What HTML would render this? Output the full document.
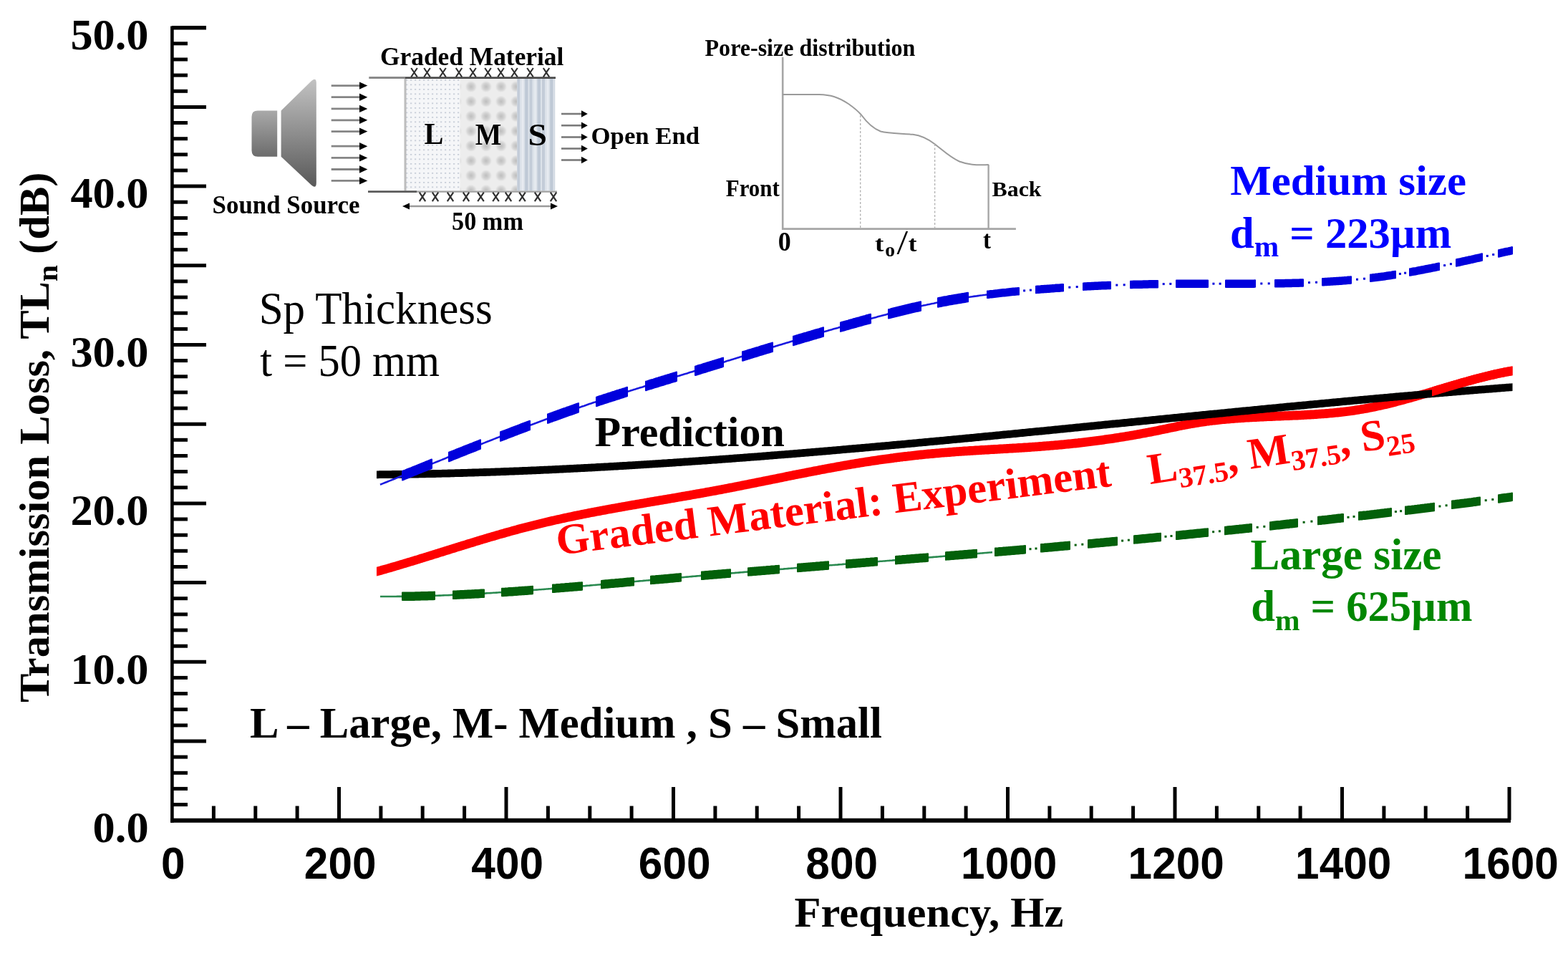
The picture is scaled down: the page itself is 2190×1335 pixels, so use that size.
<!DOCTYPE html>
<html><head><meta charset="utf-8"><title>Transmission Loss vs Frequency</title>
<style>
html,body{margin:0;padding:0;background:#fff;}
body{width:2190px;height:1335px;overflow:hidden;}
svg{display:block;}
</style></head>
<body>
<svg width="2190" height="1335" viewBox="0 0 2190 1335">
<rect width="2190" height="1335" fill="#fff"/>
<g><line x1="240.4" y1="36.5" x2="240.4" y2="1148.7" stroke="#000" stroke-width="4.6"/><line x1="238.2" y1="1145.7" x2="2110" y2="1145.7" stroke="#000" stroke-width="6"/><line x1="240" y1="1123.6" x2="262" y2="1123.6" stroke="#000" stroke-width="5.0"/><line x1="240" y1="1101.4" x2="262" y2="1101.4" stroke="#000" stroke-width="5.0"/><line x1="240" y1="1079.3" x2="262" y2="1079.3" stroke="#000" stroke-width="5.0"/><line x1="240" y1="1057.1" x2="262" y2="1057.1" stroke="#000" stroke-width="5.0"/><line x1="240" y1="1035.0" x2="288" y2="1035.0" stroke="#000" stroke-width="5.0"/><line x1="240" y1="1012.9" x2="262" y2="1012.9" stroke="#000" stroke-width="5.0"/><line x1="240" y1="990.7" x2="262" y2="990.7" stroke="#000" stroke-width="5.0"/><line x1="240" y1="968.6" x2="262" y2="968.6" stroke="#000" stroke-width="5.0"/><line x1="240" y1="946.4" x2="262" y2="946.4" stroke="#000" stroke-width="5.0"/><line x1="240" y1="924.3" x2="288" y2="924.3" stroke="#000" stroke-width="5.0"/><line x1="240" y1="902.2" x2="262" y2="902.2" stroke="#000" stroke-width="5.0"/><line x1="240" y1="880.0" x2="262" y2="880.0" stroke="#000" stroke-width="5.0"/><line x1="240" y1="857.9" x2="262" y2="857.9" stroke="#000" stroke-width="5.0"/><line x1="240" y1="835.7" x2="262" y2="835.7" stroke="#000" stroke-width="5.0"/><line x1="240" y1="813.6" x2="288" y2="813.6" stroke="#000" stroke-width="5.0"/><line x1="240" y1="791.5" x2="262" y2="791.5" stroke="#000" stroke-width="5.0"/><line x1="240" y1="769.3" x2="262" y2="769.3" stroke="#000" stroke-width="5.0"/><line x1="240" y1="747.2" x2="262" y2="747.2" stroke="#000" stroke-width="5.0"/><line x1="240" y1="725.0" x2="262" y2="725.0" stroke="#000" stroke-width="5.0"/><line x1="240" y1="702.9" x2="288" y2="702.9" stroke="#000" stroke-width="5.0"/><line x1="240" y1="680.8" x2="262" y2="680.8" stroke="#000" stroke-width="5.0"/><line x1="240" y1="658.6" x2="262" y2="658.6" stroke="#000" stroke-width="5.0"/><line x1="240" y1="636.5" x2="262" y2="636.5" stroke="#000" stroke-width="5.0"/><line x1="240" y1="614.3" x2="262" y2="614.3" stroke="#000" stroke-width="5.0"/><line x1="240" y1="592.2" x2="288" y2="592.2" stroke="#000" stroke-width="5.0"/><line x1="240" y1="570.1" x2="262" y2="570.1" stroke="#000" stroke-width="5.0"/><line x1="240" y1="547.9" x2="262" y2="547.9" stroke="#000" stroke-width="5.0"/><line x1="240" y1="525.8" x2="262" y2="525.8" stroke="#000" stroke-width="5.0"/><line x1="240" y1="503.6" x2="262" y2="503.6" stroke="#000" stroke-width="5.0"/><line x1="240" y1="481.5" x2="288" y2="481.5" stroke="#000" stroke-width="5.0"/><line x1="240" y1="459.4" x2="262" y2="459.4" stroke="#000" stroke-width="5.0"/><line x1="240" y1="437.2" x2="262" y2="437.2" stroke="#000" stroke-width="5.0"/><line x1="240" y1="415.1" x2="262" y2="415.1" stroke="#000" stroke-width="5.0"/><line x1="240" y1="392.9" x2="262" y2="392.9" stroke="#000" stroke-width="5.0"/><line x1="240" y1="370.8" x2="288" y2="370.8" stroke="#000" stroke-width="5.0"/><line x1="240" y1="348.7" x2="262" y2="348.7" stroke="#000" stroke-width="5.0"/><line x1="240" y1="326.5" x2="262" y2="326.5" stroke="#000" stroke-width="5.0"/><line x1="240" y1="304.4" x2="262" y2="304.4" stroke="#000" stroke-width="5.0"/><line x1="240" y1="282.2" x2="262" y2="282.2" stroke="#000" stroke-width="5.0"/><line x1="240" y1="260.1" x2="288" y2="260.1" stroke="#000" stroke-width="5.0"/><line x1="240" y1="238.0" x2="262" y2="238.0" stroke="#000" stroke-width="5.0"/><line x1="240" y1="215.8" x2="262" y2="215.8" stroke="#000" stroke-width="5.0"/><line x1="240" y1="193.7" x2="262" y2="193.7" stroke="#000" stroke-width="5.0"/><line x1="240" y1="171.5" x2="262" y2="171.5" stroke="#000" stroke-width="5.0"/><line x1="240" y1="149.4" x2="288" y2="149.4" stroke="#000" stroke-width="5.0"/><line x1="240" y1="127.3" x2="262" y2="127.3" stroke="#000" stroke-width="5.0"/><line x1="240" y1="105.1" x2="262" y2="105.1" stroke="#000" stroke-width="5.0"/><line x1="240" y1="83.0" x2="262" y2="83.0" stroke="#000" stroke-width="5.0"/><line x1="240" y1="60.8" x2="262" y2="60.8" stroke="#000" stroke-width="5.0"/><line x1="240" y1="38.7" x2="288" y2="38.7" stroke="#000" stroke-width="5.4"/><line x1="298.4" y1="1125.5" x2="298.4" y2="1145" stroke="#000" stroke-width="5.0"/><line x1="356.8" y1="1125.5" x2="356.8" y2="1145" stroke="#000" stroke-width="5.0"/><line x1="415.1" y1="1125.5" x2="415.1" y2="1145" stroke="#000" stroke-width="5.0"/><line x1="473.5" y1="1099" x2="473.5" y2="1145" stroke="#000" stroke-width="5.0"/><line x1="531.9" y1="1125.5" x2="531.9" y2="1145" stroke="#000" stroke-width="5.0"/><line x1="590.2" y1="1125.5" x2="590.2" y2="1145" stroke="#000" stroke-width="5.0"/><line x1="648.6" y1="1125.5" x2="648.6" y2="1145" stroke="#000" stroke-width="5.0"/><line x1="707.0" y1="1099" x2="707.0" y2="1145" stroke="#000" stroke-width="5.0"/><line x1="765.4" y1="1125.5" x2="765.4" y2="1145" stroke="#000" stroke-width="5.0"/><line x1="823.8" y1="1125.5" x2="823.8" y2="1145" stroke="#000" stroke-width="5.0"/><line x1="882.1" y1="1125.5" x2="882.1" y2="1145" stroke="#000" stroke-width="5.0"/><line x1="940.5" y1="1099" x2="940.5" y2="1145" stroke="#000" stroke-width="5.0"/><line x1="998.9" y1="1125.5" x2="998.9" y2="1145" stroke="#000" stroke-width="5.0"/><line x1="1057.2" y1="1125.5" x2="1057.2" y2="1145" stroke="#000" stroke-width="5.0"/><line x1="1115.6" y1="1125.5" x2="1115.6" y2="1145" stroke="#000" stroke-width="5.0"/><line x1="1174.0" y1="1099" x2="1174.0" y2="1145" stroke="#000" stroke-width="5.0"/><line x1="1232.4" y1="1125.5" x2="1232.4" y2="1145" stroke="#000" stroke-width="5.0"/><line x1="1290.8" y1="1125.5" x2="1290.8" y2="1145" stroke="#000" stroke-width="5.0"/><line x1="1349.1" y1="1125.5" x2="1349.1" y2="1145" stroke="#000" stroke-width="5.0"/><line x1="1407.5" y1="1099" x2="1407.5" y2="1145" stroke="#000" stroke-width="5.0"/><line x1="1465.9" y1="1125.5" x2="1465.9" y2="1145" stroke="#000" stroke-width="5.0"/><line x1="1524.2" y1="1125.5" x2="1524.2" y2="1145" stroke="#000" stroke-width="5.0"/><line x1="1582.6" y1="1125.5" x2="1582.6" y2="1145" stroke="#000" stroke-width="5.0"/><line x1="1641.0" y1="1099" x2="1641.0" y2="1145" stroke="#000" stroke-width="5.0"/><line x1="1699.4" y1="1125.5" x2="1699.4" y2="1145" stroke="#000" stroke-width="5.0"/><line x1="1757.8" y1="1125.5" x2="1757.8" y2="1145" stroke="#000" stroke-width="5.0"/><line x1="1816.1" y1="1125.5" x2="1816.1" y2="1145" stroke="#000" stroke-width="5.0"/><line x1="1874.5" y1="1099" x2="1874.5" y2="1145" stroke="#000" stroke-width="5.0"/><line x1="1932.9" y1="1125.5" x2="1932.9" y2="1145" stroke="#000" stroke-width="5.0"/><line x1="1991.2" y1="1125.5" x2="1991.2" y2="1145" stroke="#000" stroke-width="5.0"/><line x1="2049.6" y1="1125.5" x2="2049.6" y2="1145" stroke="#000" stroke-width="5.0"/><line x1="2108.0" y1="1099" x2="2108.0" y2="1145" stroke="#000" stroke-width="5.0"/></g>
<g><defs>
<linearGradient id="gBox" x1="0" y1="0" x2="0" y2="1"><stop offset="0" stop-color="#a9a9a9"/><stop offset="1" stop-color="#6c6c6c"/></linearGradient>
<linearGradient id="gCone" x1="0" y1="0" x2="0" y2="1"><stop offset="0" stop-color="#c2c2c2"/><stop offset="0.5" stop-color="#8e8e8e"/><stop offset="1" stop-color="#585858"/></linearGradient>
<pattern id="pL" x="566" y="110" width="6" height="6.5" patternUnits="userSpaceOnUse"><rect width="6" height="6.5" fill="#f5f6f8"/><rect x="1" y="1" width="2.2" height="1.6" fill="#c3cad5"/></pattern>
<radialGradient id="gBlob"><stop offset="0" stop-color="#bdbdbd"/><stop offset="0.6" stop-color="#d4d4d4"/><stop offset="1" stop-color="#ececec"/></radialGradient>
<pattern id="pM" x="647.4" y="110.5" width="21" height="20.7" patternUnits="userSpaceOnUse"><rect width="21" height="20.7" fill="#ededed"/><circle cx="10.5" cy="10.5" r="8" fill="url(#gBlob)"/></pattern>
<pattern id="pS" x="722" y="0" width="17.5" height="10" patternUnits="userSpaceOnUse"><rect width="17.5" height="10" fill="#dde3ea"/><rect x="0" width="4" height="10" fill="#c3ccd8"/><rect x="7" width="2" height="10" fill="#e9edf2"/><rect x="11" width="4.5" height="10" fill="#bfc9d6"/></pattern>
<marker id="ah" viewBox="0 0 10 10" refX="10" refY="5" markerWidth="10" markerHeight="10" markerUnits="userSpaceOnUse" orient="auto"><path d="M0,0 L10,5 L0,10 z" fill="#000"/></marker>
</defs>
<path d="M360,154.6 H387.2 V218.7 H360 Q351.5,218.7 351.5,210 V163 Q351.5,154.6 360,154.6 z" fill="url(#gBox)"/>
<path d="M392.6,154.6 L435,113 Q441.8,107.5 441.8,116 V255 Q441.8,264.5 435,258.5 L392.6,218.7 z" fill="url(#gCone)"/>
<line x1="462.7" y1="119.6" x2="503" y2="119.6" stroke="#858585" stroke-width="2.8"/>
<path d="M502,114.4 L513.3,119.6 L502,124.8 z" fill="#000"/>
<line x1="462.7" y1="135.7" x2="503" y2="135.7" stroke="#858585" stroke-width="2.8"/>
<path d="M502,130.5 L513.3,135.7 L502,140.9 z" fill="#000"/>
<line x1="462.7" y1="151.9" x2="503" y2="151.9" stroke="#858585" stroke-width="2.8"/>
<path d="M502,146.7 L513.3,151.9 L502,157.1 z" fill="#000"/>
<line x1="462.7" y1="167.8" x2="503" y2="167.8" stroke="#858585" stroke-width="2.8"/>
<path d="M502,162.6 L513.3,167.8 L502,173.0 z" fill="#000"/>
<line x1="462.7" y1="183.6" x2="503" y2="183.6" stroke="#858585" stroke-width="2.8"/>
<path d="M502,178.4 L513.3,183.6 L502,188.8 z" fill="#000"/>
<line x1="462.7" y1="204.2" x2="503" y2="204.2" stroke="#858585" stroke-width="2.8"/>
<path d="M502,199.0 L513.3,204.2 L502,209.4 z" fill="#000"/>
<line x1="462.7" y1="220.4" x2="503" y2="220.4" stroke="#858585" stroke-width="2.8"/>
<path d="M502,215.2 L513.3,220.4 L502,225.6 z" fill="#000"/>
<line x1="462.7" y1="236.5" x2="503" y2="236.5" stroke="#858585" stroke-width="2.8"/>
<path d="M502,231.3 L513.3,236.5 L502,241.7 z" fill="#000"/>
<line x1="462.7" y1="252.4" x2="503" y2="252.4" stroke="#858585" stroke-width="2.8"/>
<path d="M502,247.2 L513.3,252.4 L502,257.6 z" fill="#000"/>
<rect x="566" y="110" width="76.5" height="156.5" fill="url(#pL)"/>
<rect x="642.5" y="110" width="79.7" height="156.5" fill="url(#pM)"/>
<rect x="722.2" y="110" width="53" height="156.5" fill="url(#pS)"/>
<line x1="566" y1="110" x2="566" y2="266.5" stroke="#bdbdbd" stroke-width="3"/>
<line x1="515.3" y1="108.6" x2="566" y2="108.6" stroke="#8a8a8a" stroke-width="3"/>
<line x1="566" y1="108.6" x2="776" y2="108.6" stroke="#4a4a4a" stroke-width="2.6"/>
<line x1="514" y1="267.6" x2="582" y2="267.6" stroke="#5a5a5a" stroke-width="2.8"/>
<line x1="582" y1="267.6" x2="778" y2="267.6" stroke="#a0a0a0" stroke-width="2.2"/>
<path d="M574.2,95.0 L582.8,107.5 M582.8,95.0 L574.2,107.5" stroke="#303030" stroke-width="2.2" fill="none"/>
<path d="M592.2,95.0 L600.8,107.5 M600.8,95.0 L592.2,107.5" stroke="#303030" stroke-width="2.2" fill="none"/>
<path d="M614.2,95.0 L622.8,107.5 M622.8,95.0 L614.2,107.5" stroke="#303030" stroke-width="2.2" fill="none"/>
<path d="M636.8,95.0 L645.2,107.5 M645.2,95.0 L636.8,107.5" stroke="#303030" stroke-width="2.2" fill="none"/>
<path d="M656.2,95.0 L664.8,107.5 M664.8,95.0 L656.2,107.5" stroke="#303030" stroke-width="2.2" fill="none"/>
<path d="M677.2,95.0 L685.8,107.5 M685.8,95.0 L677.2,107.5" stroke="#303030" stroke-width="2.2" fill="none"/>
<path d="M695.2,95.0 L703.8,107.5 M703.8,95.0 L695.2,107.5" stroke="#303030" stroke-width="2.2" fill="none"/>
<path d="M714.2,95.0 L722.8,107.5 M722.8,95.0 L714.2,107.5" stroke="#303030" stroke-width="2.2" fill="none"/>
<path d="M736.2,95.0 L744.8,107.5 M744.8,95.0 L736.2,107.5" stroke="#303030" stroke-width="2.2" fill="none"/>
<path d="M758.8,95.0 L767.2,107.5 M767.2,95.0 L758.8,107.5" stroke="#303030" stroke-width="2.2" fill="none"/>
<path d="M585.8,268.6 L594.2,281.1 M594.2,268.6 L585.8,281.1" stroke="#303030" stroke-width="2.2" fill="none"/>
<path d="M603.8,268.6 L612.2,281.1 M612.2,268.6 L603.8,281.1" stroke="#303030" stroke-width="2.2" fill="none"/>
<path d="M624.8,268.6 L633.2,281.1 M633.2,268.6 L624.8,281.1" stroke="#303030" stroke-width="2.2" fill="none"/>
<path d="M646.8,268.6 L655.2,281.1 M655.2,268.6 L646.8,281.1" stroke="#303030" stroke-width="2.2" fill="none"/>
<path d="M667.2,268.6 L675.8,281.1 M675.8,268.6 L667.2,281.1" stroke="#303030" stroke-width="2.2" fill="none"/>
<path d="M688.2,268.6 L696.8,281.1 M696.8,268.6 L688.2,281.1" stroke="#303030" stroke-width="2.2" fill="none"/>
<path d="M705.8,268.6 L714.2,281.1 M714.2,268.6 L705.8,281.1" stroke="#303030" stroke-width="2.2" fill="none"/>
<path d="M725.2,268.6 L733.8,281.1 M733.8,268.6 L725.2,281.1" stroke="#303030" stroke-width="2.2" fill="none"/>
<path d="M746.8,268.6 L755.2,281.1 M755.2,268.6 L746.8,281.1" stroke="#303030" stroke-width="2.2" fill="none"/>
<path d="M768.8,268.6 L777.2,281.1 M777.2,268.6 L768.8,281.1" stroke="#303030" stroke-width="2.2" fill="none"/>
<line x1="568" y1="288" x2="772" y2="288" stroke="#9a9a9a" stroke-width="2.6"/>
<path d="M572,283.5 L562,288 L572,292.5 z" fill="#000"/>
<path d="M769,283.5 L779,288 L769,292.5 z" fill="#000"/>
<line x1="784" y1="159" x2="813" y2="159" stroke="#7a7a7a" stroke-width="2.6"/>
<path d="M812,154.2 L820.8,159 L812,163.8 z" fill="#000"/>
<line x1="784" y1="175.2" x2="813" y2="175.2" stroke="#7a7a7a" stroke-width="2.6"/>
<path d="M812,170.4 L820.8,175.2 L812,180.0 z" fill="#000"/>
<line x1="784" y1="191.5" x2="813" y2="191.5" stroke="#7a7a7a" stroke-width="2.6"/>
<path d="M812,186.7 L820.8,191.5 L812,196.3 z" fill="#000"/>
<line x1="784" y1="207.5" x2="813" y2="207.5" stroke="#7a7a7a" stroke-width="2.6"/>
<path d="M812,202.7 L820.8,207.5 L812,212.3 z" fill="#000"/>
<line x1="784" y1="223.5" x2="813" y2="223.5" stroke="#7a7a7a" stroke-width="2.6"/>
<path d="M812,218.7 L820.8,223.5 L812,228.3 z" fill="#000"/>
<path d="M1093.2,79.7 V319.6 H1418.9" fill="none" stroke="#a6a6a6" stroke-width="2.6"/>
<path d="M1380.6,230.1 V319.3" fill="none" stroke="#a6a6a6" stroke-width="2.4"/>
<path d="M1093.2,132 L1144,132 C1160,132.5 1170,135 1185,145 C1195,152 1200,157 1203,160.5 C1210,170 1218,179 1230,183.5 C1240,186 1250,186 1275,187.8 C1285,189 1295,193 1306,201.5 C1316,209 1326,219 1340,225.5 C1352,230 1362,230.7 1380.9,230.1" fill="none" stroke="#9a9a9a" stroke-width="2"/>
<path d="M1201.7,161 V319 M1305.6,201 V319" fill="none" stroke="#b0b0b0" stroke-width="1.3" stroke-dasharray="3 2.5"/></g>
<g><path d="M526.0,791.8 L528.0,791.3 L530.0,790.7 L532.0,790.1 L534.0,789.6 L536.0,789.0 L538.0,788.4 L540.0,787.9 L542.0,787.3 L544.0,786.7 L546.0,786.1 L548.0,785.6 L550.0,785.0 L552.0,784.4 L554.0,783.8 L556.0,783.2 L558.0,782.6 L560.0,782.0 L562.0,781.4 L564.0,780.8 L566.0,780.2 L568.0,779.6 L570.0,779.0 L572.0,778.4 L574.0,777.8 L576.0,777.2 L578.0,776.6 L580.0,776.0 L582.0,775.4 L584.0,774.7 L586.0,774.1 L588.0,773.5 L590.0,772.9 L592.0,772.3 L594.0,771.7 L596.0,771.0 L598.0,770.4 L600.0,769.8 L602.0,769.2 L604.0,768.6 L606.0,767.9 L608.0,767.3 L610.0,766.7 L612.0,766.1 L614.0,765.4 L616.0,764.8 L618.0,764.2 L620.0,763.6 L622.0,762.9 L624.0,762.3 L626.0,761.7 L628.0,761.1 L630.0,760.5 L632.0,759.8 L634.0,759.2 L636.0,758.6 L638.0,758.0 L640.0,757.3 L642.0,756.7 L644.0,756.1 L646.0,755.5 L648.0,754.9 L650.0,754.2 L652.0,753.6 L654.0,753.0 L656.0,752.4 L658.0,751.8 L660.0,751.2 L662.0,750.6 L664.0,749.9 L666.0,749.3 L668.0,748.7 L670.0,748.1 L672.0,747.5 L674.0,746.9 L676.0,746.3 L678.0,745.7 L680.0,745.1 L682.0,744.5 L684.0,743.9 L686.1,743.3 L688.1,742.8 L690.1,742.2 L692.1,741.6 L694.1,741.0 L696.1,740.4 L698.1,739.8 L700.1,739.3 L702.1,738.7 L704.1,738.1 L706.1,737.6 L708.1,737.0 L710.1,736.4 L712.1,735.9 L714.1,735.3 L716.1,734.8 L718.1,734.2 L720.1,733.7 L722.1,733.1 L724.1,732.6 L726.1,732.0 L728.1,731.5 L730.1,731.0 L732.1,730.5 L734.1,729.9 L736.1,729.4 L738.1,728.9 L740.1,728.4 L742.1,727.9 L744.1,727.4 L746.1,726.9 L748.1,726.4 L750.1,725.9 L752.1,725.4 L754.1,724.9 L756.1,724.4 L758.1,723.9 L760.1,723.4 L762.1,723.0 L764.1,722.5 L766.1,722.0 L768.1,721.6 L770.1,721.1 L772.1,720.7 L774.1,720.2 L776.1,719.8 L778.1,719.3 L780.1,718.9 L782.1,718.4 L784.1,718.0 L786.1,717.5 L788.1,717.1 L790.1,716.7 L792.1,716.2 L794.1,715.8 L796.1,715.4 L798.1,715.0 L800.1,714.6 L802.1,714.1 L804.1,713.7 L806.1,713.3 L808.1,712.9 L810.1,712.5 L812.1,712.1 L814.1,711.7 L816.1,711.3 L818.1,710.9 L820.1,710.5 L822.1,710.1 L824.1,709.7 L826.1,709.3 L828.1,709.0 L830.1,708.6 L832.1,708.2 L834.1,707.8 L836.1,707.4 L838.1,707.1 L840.1,706.7 L842.1,706.3 L844.1,705.9 L846.1,705.6 L848.1,705.2 L850.1,704.8 L852.1,704.5 L854.1,704.1 L856.1,703.7 L858.1,703.4 L860.1,703.0 L862.1,702.7 L864.1,702.3 L866.1,701.9 L868.1,701.6 L870.1,701.2 L872.1,700.9 L874.1,700.5 L876.1,700.2 L878.1,699.8 L880.1,699.5 L882.1,699.1 L884.1,698.8 L886.1,698.4 L888.1,698.1 L890.1,697.7 L892.1,697.4 L894.1,697.0 L896.1,696.7 L898.1,696.4 L900.1,696.0 L902.1,695.7 L904.1,695.3 L906.1,695.0 L908.1,694.6 L910.1,694.3 L912.1,694.0 L914.1,693.6 L916.1,693.3 L918.1,692.9 L920.1,692.6 L922.1,692.3 L924.1,691.9 L926.1,691.6 L928.1,691.2 L930.1,690.9 L932.1,690.6 L934.1,690.2 L936.1,689.9 L938.1,689.5 L940.1,689.2 L942.1,688.9 L944.1,688.5 L946.1,688.2 L948.1,687.8 L950.1,687.5 L952.1,687.1 L954.1,686.8 L956.1,686.4 L958.1,686.1 L960.1,685.7 L962.1,685.4 L964.1,685.1 L966.1,684.7 L968.1,684.3 L970.1,684.0 L972.1,683.6 L974.1,683.3 L976.1,682.9 L978.1,682.6 L980.1,682.2 L982.1,681.9 L984.1,681.5 L986.1,681.1 L988.1,680.8 L990.1,680.4 L992.1,680.0 L994.1,679.7 L996.1,679.3 L998.1,678.9 L1000.1,678.6 L1002.2,678.2 L1004.2,677.8 L1006.2,677.4 L1008.2,677.1 L1010.2,676.7 L1012.2,676.3 L1014.2,675.9 L1016.2,675.5 L1018.2,675.1 L1020.2,674.8 L1022.2,674.4 L1024.2,674.0 L1026.2,673.6 L1028.2,673.2 L1030.2,672.8 L1032.2,672.4 L1034.2,672.0 L1036.2,671.6 L1038.2,671.2 L1040.2,670.8 L1042.2,670.4 L1044.2,670.0 L1046.2,669.6 L1048.2,669.2 L1050.2,668.8 L1052.2,668.4 L1054.2,668.0 L1056.2,667.6 L1058.2,667.2 L1060.2,666.8 L1062.2,666.4 L1064.2,666.0 L1066.2,665.6 L1068.2,665.2 L1070.2,664.8 L1072.2,664.4 L1074.2,664.0 L1076.2,663.6 L1078.2,663.2 L1080.2,662.8 L1082.2,662.4 L1084.2,662.0 L1086.2,661.6 L1088.2,661.2 L1090.2,660.8 L1092.2,660.4 L1094.2,660.0 L1096.2,659.5 L1098.2,659.1 L1100.2,658.7 L1102.2,658.3 L1104.2,657.9 L1106.2,657.5 L1108.2,657.1 L1110.2,656.7 L1112.2,656.3 L1114.2,655.9 L1116.2,655.5 L1118.2,655.2 L1120.2,654.8 L1122.2,654.4 L1124.2,654.0 L1126.2,653.6 L1128.2,653.2 L1130.2,652.8 L1132.2,652.4 L1134.2,652.0 L1136.2,651.6 L1138.2,651.2 L1140.2,650.9 L1142.2,650.5 L1144.2,650.1 L1146.2,649.7 L1148.2,649.3 L1150.2,649.0 L1152.2,648.6 L1154.2,648.2 L1156.2,647.8 L1158.2,647.5 L1160.2,647.1 L1162.2,646.7 L1164.2,646.4 L1166.2,646.0 L1168.2,645.6 L1170.2,645.3 L1172.2,644.9 L1174.2,644.6 L1176.2,644.2 L1178.2,643.8 L1180.2,643.5 L1182.2,643.2 L1184.2,642.8 L1186.2,642.5 L1188.2,642.1 L1190.2,641.8 L1192.2,641.4 L1194.2,641.1 L1196.2,640.8 L1198.2,640.5 L1200.2,640.1 L1202.2,639.8 L1204.2,639.5 L1206.2,639.2 L1208.2,638.8 L1210.2,638.5 L1212.2,638.2 L1214.2,637.9 L1216.2,637.6 L1218.2,637.3 L1220.2,637.0 L1222.2,636.7 L1224.2,636.4 L1226.2,636.1 L1228.2,635.8 L1230.2,635.5 L1232.2,635.3 L1234.2,635.0 L1236.2,634.7 L1238.2,634.4 L1240.2,634.2 L1242.2,633.9 L1244.2,633.6 L1246.2,633.4 L1248.2,633.1 L1250.2,632.8 L1252.2,632.6 L1254.2,632.3 L1256.2,632.1 L1258.2,631.8 L1260.2,631.6 L1262.2,631.3 L1264.2,631.1 L1266.2,630.9 L1268.2,630.6 L1270.2,630.4 L1272.2,630.2 L1274.2,629.9 L1276.2,629.7 L1278.2,629.5 L1280.2,629.3 L1282.2,629.1 L1284.2,628.8 L1286.2,628.6 L1288.2,628.4 L1290.2,628.2 L1292.2,628.0 L1294.2,627.8 L1296.2,627.6 L1298.2,627.4 L1300.2,627.3 L1302.2,627.1 L1304.2,626.9 L1306.2,626.7 L1308.2,626.5 L1310.2,626.4 L1312.2,626.2 L1314.2,626.0 L1316.2,625.8 L1318.2,625.7 L1320.3,625.5 L1322.3,625.4 L1324.3,625.2 L1326.3,625.1 L1328.3,624.9 L1330.3,624.8 L1332.3,624.6 L1334.3,624.5 L1336.3,624.3 L1338.3,624.2 L1340.3,624.0 L1342.3,623.9 L1344.3,623.8 L1346.3,623.6 L1348.3,623.5 L1350.3,623.4 L1352.3,623.2 L1354.3,623.1 L1356.3,623.0 L1358.3,622.9 L1360.3,622.7 L1362.3,622.6 L1364.3,622.5 L1366.3,622.4 L1368.3,622.3 L1370.3,622.1 L1372.3,622.0 L1374.3,621.9 L1376.3,621.8 L1378.3,621.7 L1380.3,621.6 L1382.3,621.4 L1384.3,621.3 L1386.3,621.2 L1388.3,621.1 L1390.3,621.0 L1392.3,620.9 L1394.3,620.8 L1396.3,620.6 L1398.3,620.5 L1400.3,620.4 L1402.3,620.3 L1404.3,620.2 L1406.3,620.1 L1408.3,620.0 L1410.3,619.8 L1412.3,619.7 L1414.3,619.6 L1416.3,619.5 L1418.3,619.4 L1420.3,619.2 L1422.3,619.1 L1424.3,619.0 L1426.3,618.9 L1428.3,618.7 L1430.3,618.6 L1432.3,618.5 L1434.3,618.4 L1436.3,618.2 L1438.3,618.1 L1440.3,618.0 L1442.3,617.8 L1444.3,617.7 L1446.3,617.5 L1448.3,617.4 L1450.3,617.3 L1452.3,617.1 L1454.3,617.0 L1456.3,616.8 L1458.3,616.6 L1460.3,616.5 L1462.3,616.3 L1464.3,616.2 L1466.3,616.0 L1468.3,615.8 L1470.3,615.7 L1472.3,615.5 L1474.3,615.3 L1476.3,615.2 L1478.3,615.0 L1480.3,614.8 L1482.3,614.6 L1484.3,614.4 L1486.3,614.2 L1488.3,614.0 L1490.3,613.8 L1492.3,613.6 L1494.3,613.4 L1496.3,613.2 L1498.3,613.0 L1500.3,612.8 L1502.3,612.6 L1504.3,612.4 L1506.3,612.1 L1508.3,611.9 L1510.3,611.7 L1512.3,611.5 L1514.3,611.2 L1516.3,611.0 L1518.3,610.7 L1520.3,610.5 L1522.3,610.2 L1524.3,610.0 L1526.3,609.7 L1528.3,609.5 L1530.3,609.2 L1532.3,609.0 L1534.3,608.7 L1536.3,608.4 L1538.3,608.2 L1540.3,607.9 L1542.3,607.6 L1544.3,607.3 L1546.3,607.0 L1548.3,606.8 L1550.3,606.5 L1552.3,606.2 L1554.3,605.9 L1556.3,605.6 L1558.3,605.3 L1560.3,605.0 L1562.3,604.7 L1564.3,604.3 L1566.3,604.0 L1568.3,603.7 L1570.3,603.4 L1572.3,603.0 L1574.3,602.7 L1576.3,602.4 L1578.3,602.0 L1580.3,601.7 L1582.3,601.4 L1584.3,601.0 L1586.3,600.7 L1588.3,600.3 L1590.3,599.9 L1592.3,599.6 L1594.3,599.2 L1596.3,598.8 L1598.3,598.5 L1600.3,598.1 L1602.3,597.7 L1604.3,597.3 L1606.3,596.9 L1608.3,596.6 L1610.3,596.2 L1612.3,595.8 L1614.3,595.4 L1616.3,595.0 L1618.3,594.6 L1620.3,594.1 L1622.3,593.7 L1624.3,593.3 L1626.3,592.9 L1628.3,592.5 L1630.3,592.1 L1632.3,591.6 L1634.3,591.2 L1636.3,590.8 L1638.4,590.4 L1640.4,590.0 L1642.4,589.6 L1644.4,589.1 L1646.4,588.7 L1648.4,588.3 L1650.4,587.9 L1652.4,587.5 L1654.4,587.1 L1656.4,586.8 L1658.4,586.4 L1660.4,586.0 L1662.4,585.6 L1664.4,585.3 L1666.4,584.9 L1668.4,584.6 L1670.4,584.2 L1672.4,583.9 L1674.4,583.6 L1676.4,583.3 L1678.4,583.0 L1680.4,582.7 L1682.4,582.4 L1684.4,582.1 L1686.4,581.8 L1688.4,581.6 L1690.4,581.3 L1692.4,581.1 L1694.4,580.8 L1696.4,580.6 L1698.4,580.4 L1700.4,580.1 L1702.4,579.9 L1704.4,579.7 L1706.4,579.5 L1708.4,579.3 L1710.4,579.1 L1712.4,578.9 L1714.4,578.8 L1716.4,578.6 L1718.4,578.4 L1720.4,578.2 L1722.4,578.1 L1724.4,577.9 L1726.4,577.8 L1728.4,577.6 L1730.4,577.5 L1732.4,577.4 L1734.4,577.2 L1736.4,577.1 L1738.4,577.0 L1740.4,576.8 L1742.4,576.7 L1744.4,576.6 L1746.4,576.5 L1748.4,576.4 L1750.4,576.3 L1752.4,576.2 L1754.4,576.1 L1756.4,576.0 L1758.4,575.9 L1760.4,575.8 L1762.4,575.7 L1764.4,575.6 L1766.4,575.5 L1768.4,575.4 L1770.4,575.3 L1772.4,575.2 L1774.4,575.2 L1776.4,575.1 L1778.4,575.0 L1780.4,574.9 L1782.4,574.8 L1784.4,574.7 L1786.4,574.7 L1788.4,574.6 L1790.4,574.5 L1792.4,574.4 L1794.4,574.3 L1796.4,574.3 L1798.4,574.2 L1800.4,574.1 L1802.4,574.0 L1804.4,573.9 L1806.4,573.8 L1808.4,573.7 L1810.4,573.6 L1812.4,573.6 L1814.4,573.5 L1816.4,573.4 L1818.4,573.3 L1820.4,573.2 L1822.4,573.0 L1824.4,572.9 L1826.4,572.8 L1828.4,572.7 L1830.4,572.6 L1832.4,572.5 L1834.4,572.4 L1836.4,572.2 L1838.4,572.1 L1840.4,572.0 L1842.4,571.8 L1844.4,571.7 L1846.4,571.5 L1848.4,571.4 L1850.4,571.2 L1852.4,571.1 L1854.4,570.9 L1856.4,570.7 L1858.4,570.5 L1860.4,570.4 L1862.4,570.2 L1864.4,570.0 L1866.4,569.8 L1868.4,569.6 L1870.4,569.4 L1872.4,569.1 L1874.4,568.9 L1876.4,568.7 L1878.4,568.5 L1880.4,568.2 L1882.4,568.0 L1884.4,567.7 L1886.4,567.4 L1888.4,567.2 L1890.4,566.9 L1892.4,566.6 L1894.4,566.3 L1896.4,566.0 L1898.4,565.7 L1900.4,565.3 L1902.4,565.0 L1904.4,564.7 L1906.4,564.3 L1908.4,564.0 L1910.4,563.6 L1912.4,563.2 L1914.4,562.8 L1916.4,562.4 L1918.4,562.0 L1920.4,561.6 L1922.4,561.2 L1924.4,560.8 L1926.4,560.3 L1928.4,559.9 L1930.4,559.5 L1932.4,559.0 L1934.4,558.5 L1936.4,558.1 L1938.4,557.6 L1940.4,557.1 L1942.4,556.6 L1944.4,556.1 L1946.4,555.6 L1948.4,555.1 L1950.4,554.6 L1952.4,554.0 L1954.5,553.5 L1956.5,553.0 L1958.5,552.5 L1960.5,551.9 L1962.5,551.4 L1964.5,550.8 L1966.5,550.3 L1968.5,549.7 L1970.5,549.1 L1972.5,548.6 L1974.5,548.0 L1976.5,547.4 L1978.5,546.9 L1980.5,546.3 L1982.5,545.7 L1984.5,545.1 L1986.5,544.5 L1988.5,543.9 L1990.5,543.4 L1992.5,542.8 L1994.5,542.2 L1996.5,541.6 L1998.5,541.0 L2000.5,540.4 L2002.5,539.8 L2004.5,539.2 L2006.5,538.6 L2008.5,538.0 L2010.5,537.4 L2012.5,536.8 L2014.5,536.2 L2016.5,535.6 L2018.5,535.0 L2020.5,534.4 L2022.5,533.8 L2024.5,533.2 L2026.5,532.6 L2028.5,532.0 L2030.5,531.5 L2032.5,530.9 L2034.5,530.3 L2036.5,529.7 L2038.5,529.1 L2040.5,528.6 L2042.5,528.0 L2044.5,527.4 L2046.5,526.9 L2048.5,526.3 L2050.5,525.7 L2052.5,525.2 L2054.5,524.6 L2056.5,524.1 L2058.5,523.5 L2060.5,523.0 L2062.5,522.5 L2064.5,522.0 L2066.5,521.4 L2068.5,520.9 L2070.5,520.4 L2072.5,519.9 L2074.5,519.4 L2076.5,518.9 L2078.5,518.4 L2080.5,518.0 L2082.5,517.5 L2084.5,517.0 L2086.5,516.6 L2088.5,516.1 L2090.5,515.7 L2092.5,515.2 L2094.5,514.8 L2096.5,514.4 L2098.5,514.0 L2100.5,513.6 L2102.5,513.2 L2104.5,512.8 L2106.5,512.4 L2108.5,512.1 L2110.5,511.7 L2112.5,511.4 L2112.5,524.2 L2110.5,524.5 L2108.5,524.9 L2106.5,525.2 L2104.5,525.6 L2102.5,526.0 L2100.5,526.4 L2098.5,526.8 L2096.5,527.2 L2094.5,527.6 L2092.5,528.0 L2090.5,528.5 L2088.5,528.9 L2086.5,529.4 L2084.5,529.8 L2082.5,530.3 L2080.5,530.8 L2078.5,531.2 L2076.5,531.7 L2074.5,532.2 L2072.5,532.7 L2070.5,533.2 L2068.5,533.7 L2066.5,534.2 L2064.5,534.8 L2062.5,535.3 L2060.5,535.8 L2058.5,536.3 L2056.5,536.9 L2054.5,537.4 L2052.5,538.0 L2050.5,538.5 L2048.5,539.1 L2046.5,539.7 L2044.5,540.2 L2042.5,540.8 L2040.5,541.4 L2038.5,541.9 L2036.5,542.5 L2034.5,543.1 L2032.5,543.7 L2030.5,544.3 L2028.5,544.8 L2026.5,545.4 L2024.5,546.0 L2022.5,546.6 L2020.5,547.2 L2018.5,547.8 L2016.5,548.4 L2014.5,549.0 L2012.5,549.6 L2010.5,550.2 L2008.5,550.8 L2006.5,551.4 L2004.5,552.0 L2002.5,552.6 L2000.5,553.2 L1998.5,553.8 L1996.5,554.4 L1994.5,555.0 L1992.5,555.6 L1990.5,556.2 L1988.5,556.7 L1986.5,557.3 L1984.5,557.9 L1982.5,558.5 L1980.5,559.1 L1978.5,559.7 L1976.5,560.2 L1974.5,560.8 L1972.5,561.4 L1970.5,561.9 L1968.5,562.5 L1966.5,563.1 L1964.5,563.6 L1962.5,564.2 L1960.5,564.7 L1958.5,565.3 L1956.5,565.8 L1954.5,566.3 L1952.4,566.8 L1950.4,567.4 L1948.4,567.9 L1946.4,568.4 L1944.4,568.9 L1942.4,569.4 L1940.4,569.9 L1938.4,570.4 L1936.4,570.9 L1934.4,571.3 L1932.4,571.8 L1930.4,572.3 L1928.4,572.7 L1926.4,573.1 L1924.4,573.6 L1922.4,574.0 L1920.4,574.4 L1918.4,574.8 L1916.4,575.2 L1914.4,575.6 L1912.4,576.0 L1910.4,576.4 L1908.4,576.8 L1906.4,577.1 L1904.4,577.5 L1902.4,577.8 L1900.4,578.1 L1898.4,578.5 L1896.4,578.8 L1894.4,579.1 L1892.4,579.4 L1890.4,579.7 L1888.4,580.0 L1886.4,580.2 L1884.4,580.5 L1882.4,580.8 L1880.4,581.0 L1878.4,581.3 L1876.4,581.5 L1874.4,581.7 L1872.4,581.9 L1870.4,582.2 L1868.4,582.4 L1866.4,582.6 L1864.4,582.8 L1862.4,583.0 L1860.4,583.2 L1858.4,583.3 L1856.4,583.5 L1854.4,583.7 L1852.4,583.9 L1850.4,584.0 L1848.4,584.2 L1846.4,584.3 L1844.4,584.5 L1842.4,584.6 L1840.4,584.8 L1838.4,584.9 L1836.4,585.0 L1834.4,585.2 L1832.4,585.3 L1830.4,585.4 L1828.4,585.5 L1826.4,585.6 L1824.4,585.7 L1822.4,585.8 L1820.4,586.0 L1818.4,586.1 L1816.4,586.2 L1814.4,586.3 L1812.4,586.4 L1810.4,586.4 L1808.4,586.5 L1806.4,586.6 L1804.4,586.7 L1802.4,586.8 L1800.4,586.9 L1798.4,587.0 L1796.4,587.1 L1794.4,587.1 L1792.4,587.2 L1790.4,587.3 L1788.4,587.4 L1786.4,587.5 L1784.4,587.5 L1782.4,587.6 L1780.4,587.7 L1778.4,587.8 L1776.4,587.9 L1774.4,588.0 L1772.4,588.0 L1770.4,588.1 L1768.4,588.2 L1766.4,588.3 L1764.4,588.4 L1762.4,588.5 L1760.4,588.6 L1758.4,588.7 L1756.4,588.8 L1754.4,588.9 L1752.4,589.0 L1750.4,589.1 L1748.4,589.2 L1746.4,589.3 L1744.4,589.4 L1742.4,589.5 L1740.4,589.6 L1738.4,589.8 L1736.4,589.9 L1734.4,590.0 L1732.4,590.2 L1730.4,590.3 L1728.4,590.4 L1726.4,590.6 L1724.4,590.7 L1722.4,590.9 L1720.4,591.0 L1718.4,591.2 L1716.4,591.4 L1714.4,591.6 L1712.4,591.7 L1710.4,591.9 L1708.4,592.1 L1706.4,592.3 L1704.4,592.5 L1702.4,592.7 L1700.4,592.9 L1698.4,593.2 L1696.4,593.4 L1694.4,593.6 L1692.4,593.9 L1690.4,594.1 L1688.4,594.4 L1686.4,594.6 L1684.4,594.9 L1682.4,595.2 L1680.4,595.5 L1678.4,595.8 L1676.4,596.1 L1674.4,596.4 L1672.4,596.7 L1670.4,597.0 L1668.4,597.4 L1666.4,597.7 L1664.4,598.1 L1662.4,598.4 L1660.4,598.8 L1658.4,599.2 L1656.4,599.6 L1654.4,599.9 L1652.4,600.3 L1650.4,600.7 L1648.4,601.1 L1646.4,601.5 L1644.4,601.9 L1642.4,602.4 L1640.4,602.8 L1638.4,603.2 L1636.3,603.6 L1634.3,604.0 L1632.3,604.4 L1630.3,604.9 L1628.3,605.3 L1626.3,605.7 L1624.3,606.1 L1622.3,606.5 L1620.3,606.9 L1618.3,607.4 L1616.3,607.8 L1614.3,608.2 L1612.3,608.6 L1610.3,609.0 L1608.3,609.4 L1606.3,609.7 L1604.3,610.1 L1602.3,610.5 L1600.3,610.9 L1598.3,611.3 L1596.3,611.6 L1594.3,612.0 L1592.3,612.4 L1590.3,612.7 L1588.3,613.1 L1586.3,613.5 L1584.3,613.8 L1582.3,614.2 L1580.3,614.5 L1578.3,614.8 L1576.3,615.2 L1574.3,615.5 L1572.3,615.8 L1570.3,616.2 L1568.3,616.5 L1566.3,616.8 L1564.3,617.1 L1562.3,617.5 L1560.3,617.8 L1558.3,618.1 L1556.3,618.4 L1554.3,618.7 L1552.3,619.0 L1550.3,619.3 L1548.3,619.6 L1546.3,619.8 L1544.3,620.1 L1542.3,620.4 L1540.3,620.7 L1538.3,621.0 L1536.3,621.2 L1534.3,621.5 L1532.3,621.8 L1530.3,622.0 L1528.3,622.3 L1526.3,622.5 L1524.3,622.8 L1522.3,623.0 L1520.3,623.3 L1518.3,623.5 L1516.3,623.8 L1514.3,624.0 L1512.3,624.3 L1510.3,624.5 L1508.3,624.7 L1506.3,624.9 L1504.3,625.2 L1502.3,625.4 L1500.3,625.6 L1498.3,625.8 L1496.3,626.0 L1494.3,626.2 L1492.3,626.4 L1490.3,626.6 L1488.3,626.8 L1486.3,627.0 L1484.3,627.2 L1482.3,627.4 L1480.3,627.6 L1478.3,627.8 L1476.3,628.0 L1474.3,628.1 L1472.3,628.3 L1470.3,628.5 L1468.3,628.6 L1466.3,628.8 L1464.3,629.0 L1462.3,629.1 L1460.3,629.3 L1458.3,629.4 L1456.3,629.6 L1454.3,629.8 L1452.3,629.9 L1450.3,630.1 L1448.3,630.2 L1446.3,630.3 L1444.3,630.5 L1442.3,630.6 L1440.3,630.8 L1438.3,630.9 L1436.3,631.0 L1434.3,631.2 L1432.3,631.3 L1430.3,631.4 L1428.3,631.5 L1426.3,631.7 L1424.3,631.8 L1422.3,631.9 L1420.3,632.0 L1418.3,632.2 L1416.3,632.3 L1414.3,632.4 L1412.3,632.5 L1410.3,632.6 L1408.3,632.8 L1406.3,632.9 L1404.3,633.0 L1402.3,633.1 L1400.3,633.2 L1398.3,633.3 L1396.3,633.4 L1394.3,633.6 L1392.3,633.7 L1390.3,633.8 L1388.3,633.9 L1386.3,634.0 L1384.3,634.1 L1382.3,634.2 L1380.3,634.4 L1378.3,634.5 L1376.3,634.6 L1374.3,634.7 L1372.3,634.8 L1370.3,634.9 L1368.3,635.1 L1366.3,635.2 L1364.3,635.3 L1362.3,635.4 L1360.3,635.5 L1358.3,635.7 L1356.3,635.8 L1354.3,635.9 L1352.3,636.0 L1350.3,636.2 L1348.3,636.3 L1346.3,636.4 L1344.3,636.6 L1342.3,636.7 L1340.3,636.8 L1338.3,637.0 L1336.3,637.1 L1334.3,637.3 L1332.3,637.4 L1330.3,637.6 L1328.3,637.7 L1326.3,637.9 L1324.3,638.0 L1322.3,638.2 L1320.3,638.3 L1318.2,638.5 L1316.2,638.6 L1314.2,638.8 L1312.2,639.0 L1310.2,639.2 L1308.2,639.3 L1306.2,639.5 L1304.2,639.7 L1302.2,639.9 L1300.2,640.1 L1298.2,640.2 L1296.2,640.4 L1294.2,640.6 L1292.2,640.8 L1290.2,641.0 L1288.2,641.2 L1286.2,641.4 L1284.2,641.6 L1282.2,641.9 L1280.2,642.1 L1278.2,642.3 L1276.2,642.5 L1274.2,642.7 L1272.2,643.0 L1270.2,643.2 L1268.2,643.4 L1266.2,643.7 L1264.2,643.9 L1262.2,644.1 L1260.2,644.4 L1258.2,644.6 L1256.2,644.9 L1254.2,645.1 L1252.2,645.4 L1250.2,645.6 L1248.2,645.9 L1246.2,646.2 L1244.2,646.4 L1242.2,646.7 L1240.2,647.0 L1238.2,647.2 L1236.2,647.5 L1234.2,647.8 L1232.2,648.1 L1230.2,648.3 L1228.2,648.6 L1226.2,648.9 L1224.2,649.2 L1222.2,649.5 L1220.2,649.8 L1218.2,650.1 L1216.2,650.4 L1214.2,650.7 L1212.2,651.0 L1210.2,651.3 L1208.2,651.6 L1206.2,652.0 L1204.2,652.3 L1202.2,652.6 L1200.2,652.9 L1198.2,653.3 L1196.2,653.6 L1194.2,653.9 L1192.2,654.2 L1190.2,654.6 L1188.2,654.9 L1186.2,655.3 L1184.2,655.6 L1182.2,656.0 L1180.2,656.3 L1178.2,656.6 L1176.2,657.0 L1174.2,657.4 L1172.2,657.7 L1170.2,658.1 L1168.2,658.4 L1166.2,658.8 L1164.2,659.2 L1162.2,659.5 L1160.2,659.9 L1158.2,660.3 L1156.2,660.6 L1154.2,661.0 L1152.2,661.4 L1150.2,661.8 L1148.2,662.1 L1146.2,662.5 L1144.2,662.9 L1142.2,663.3 L1140.2,663.7 L1138.2,664.0 L1136.2,664.4 L1134.2,664.8 L1132.2,665.2 L1130.2,665.6 L1128.2,666.0 L1126.2,666.4 L1124.2,666.8 L1122.2,667.2 L1120.2,667.6 L1118.2,668.0 L1116.2,668.3 L1114.2,668.7 L1112.2,669.1 L1110.2,669.5 L1108.2,669.9 L1106.2,670.3 L1104.2,670.7 L1102.2,671.1 L1100.2,671.5 L1098.2,671.9 L1096.2,672.3 L1094.2,672.8 L1092.2,673.2 L1090.2,673.6 L1088.2,674.0 L1086.2,674.4 L1084.2,674.8 L1082.2,675.2 L1080.2,675.6 L1078.2,676.0 L1076.2,676.4 L1074.2,676.8 L1072.2,677.2 L1070.2,677.6 L1068.2,678.0 L1066.2,678.4 L1064.2,678.8 L1062.2,679.2 L1060.2,679.6 L1058.2,680.0 L1056.2,680.4 L1054.2,680.8 L1052.2,681.2 L1050.2,681.6 L1048.2,682.0 L1046.2,682.4 L1044.2,682.8 L1042.2,683.2 L1040.2,683.6 L1038.2,684.0 L1036.2,684.4 L1034.2,684.8 L1032.2,685.2 L1030.2,685.6 L1028.2,686.0 L1026.2,686.4 L1024.2,686.8 L1022.2,687.2 L1020.2,687.6 L1018.2,687.9 L1016.2,688.3 L1014.2,688.7 L1012.2,689.1 L1010.2,689.5 L1008.2,689.9 L1006.2,690.2 L1004.2,690.6 L1002.2,691.0 L1000.1,691.4 L998.1,691.7 L996.1,692.1 L994.1,692.5 L992.1,692.8 L990.1,693.2 L988.1,693.6 L986.1,693.9 L984.1,694.3 L982.1,694.7 L980.1,695.0 L978.1,695.4 L976.1,695.7 L974.1,696.1 L972.1,696.4 L970.1,696.8 L968.1,697.1 L966.1,697.5 L964.1,697.9 L962.1,698.2 L960.1,698.5 L958.1,698.9 L956.1,699.2 L954.1,699.6 L952.1,699.9 L950.1,700.3 L948.1,700.6 L946.1,701.0 L944.1,701.3 L942.1,701.7 L940.1,702.0 L938.1,702.3 L936.1,702.7 L934.1,703.0 L932.1,703.4 L930.1,703.7 L928.1,704.0 L926.1,704.4 L924.1,704.7 L922.1,705.1 L920.1,705.4 L918.1,705.7 L916.1,706.1 L914.1,706.4 L912.1,706.8 L910.1,707.1 L908.1,707.4 L906.1,707.8 L904.1,708.1 L902.1,708.5 L900.1,708.8 L898.1,709.2 L896.1,709.5 L894.1,709.8 L892.1,710.2 L890.1,710.5 L888.1,710.9 L886.1,711.2 L884.1,711.6 L882.1,711.9 L880.1,712.3 L878.1,712.6 L876.1,713.0 L874.1,713.3 L872.1,713.7 L870.1,714.0 L868.1,714.4 L866.1,714.7 L864.1,715.1 L862.1,715.5 L860.1,715.8 L858.1,716.2 L856.1,716.5 L854.1,716.9 L852.1,717.3 L850.1,717.6 L848.1,718.0 L846.1,718.4 L844.1,718.7 L842.1,719.1 L840.1,719.5 L838.1,719.9 L836.1,720.2 L834.1,720.6 L832.1,721.0 L830.1,721.4 L828.1,721.8 L826.1,722.1 L824.1,722.5 L822.1,722.9 L820.1,723.3 L818.1,723.7 L816.1,724.1 L814.1,724.5 L812.1,724.9 L810.1,725.3 L808.1,725.7 L806.1,726.1 L804.1,726.5 L802.1,726.9 L800.1,727.4 L798.1,727.8 L796.1,728.2 L794.1,728.6 L792.1,729.0 L790.1,729.5 L788.1,729.9 L786.1,730.3 L784.1,730.8 L782.1,731.2 L780.1,731.7 L778.1,732.1 L776.1,732.6 L774.1,733.0 L772.1,733.5 L770.1,733.9 L768.1,734.4 L766.1,734.8 L764.1,735.3 L762.1,735.8 L760.1,736.2 L758.1,736.7 L756.1,737.2 L754.1,737.7 L752.1,738.2 L750.1,738.7 L748.1,739.2 L746.1,739.7 L744.1,740.2 L742.1,740.7 L740.1,741.2 L738.1,741.7 L736.1,742.2 L734.1,742.7 L732.1,743.3 L730.1,743.8 L728.1,744.3 L726.1,744.8 L724.1,745.4 L722.1,745.9 L720.1,746.5 L718.1,747.0 L716.1,747.6 L714.1,748.1 L712.1,748.7 L710.1,749.2 L708.1,749.8 L706.1,750.4 L704.1,750.9 L702.1,751.5 L700.1,752.1 L698.1,752.6 L696.1,753.2 L694.1,753.8 L692.1,754.4 L690.1,755.0 L688.1,755.6 L686.1,756.1 L684.0,756.7 L682.0,757.3 L680.0,757.9 L678.0,758.5 L676.0,759.1 L674.0,759.7 L672.0,760.3 L670.0,760.9 L668.0,761.5 L666.0,762.1 L664.0,762.7 L662.0,763.4 L660.0,764.0 L658.0,764.6 L656.0,765.2 L654.0,765.8 L652.0,766.4 L650.0,767.0 L648.0,767.7 L646.0,768.3 L644.0,768.9 L642.0,769.5 L640.0,770.1 L638.0,770.8 L636.0,771.4 L634.0,772.0 L632.0,772.6 L630.0,773.3 L628.0,773.9 L626.0,774.5 L624.0,775.1 L622.0,775.7 L620.0,776.4 L618.0,777.0 L616.0,777.6 L614.0,778.2 L612.0,778.9 L610.0,779.5 L608.0,780.1 L606.0,780.7 L604.0,781.4 L602.0,782.0 L600.0,782.6 L598.0,783.2 L596.0,783.8 L594.0,784.5 L592.0,785.1 L590.0,785.7 L588.0,786.3 L586.0,786.9 L584.0,787.5 L582.0,788.2 L580.0,788.8 L578.0,789.4 L576.0,790.0 L574.0,790.6 L572.0,791.2 L570.0,791.8 L568.0,792.4 L566.0,793.0 L564.0,793.6 L562.0,794.2 L560.0,794.8 L558.0,795.4 L556.0,796.0 L554.0,796.6 L552.0,797.2 L550.0,797.8 L548.0,798.4 L546.0,798.9 L544.0,799.5 L542.0,800.1 L540.0,800.7 L538.0,801.2 L536.0,801.8 L534.0,802.4 L532.0,802.9 L530.0,803.5 L528.0,804.1 L526.0,804.6 z" fill="#ff0000"/>
<path d="M526.0,657.4 L528.0,657.4 L530.0,657.3 L532.0,657.3 L534.0,657.3 L536.0,657.3 L538.0,657.3 L540.0,657.2 L542.0,657.2 L544.0,657.2 L546.0,657.2 L548.0,657.1 L550.0,657.1 L552.0,657.1 L554.0,657.1 L556.0,657.0 L558.0,657.0 L560.0,657.0 L562.0,656.9 L564.0,656.9 L566.0,656.9 L568.0,656.8 L570.0,656.8 L572.0,656.8 L574.0,656.7 L576.0,656.7 L578.0,656.7 L580.0,656.6 L582.0,656.6 L584.0,656.6 L586.0,656.5 L588.0,656.5 L590.0,656.4 L592.0,656.4 L594.0,656.4 L596.0,656.3 L598.0,656.3 L600.0,656.2 L602.0,656.2 L604.0,656.1 L606.0,656.1 L608.0,656.1 L610.0,656.0 L612.0,656.0 L614.0,655.9 L616.0,655.9 L618.0,655.8 L620.0,655.8 L622.0,655.7 L624.0,655.7 L626.0,655.6 L628.0,655.6 L630.0,655.5 L632.0,655.5 L634.0,655.4 L636.0,655.3 L638.0,655.3 L640.0,655.2 L642.0,655.2 L644.0,655.1 L646.0,655.1 L648.0,655.0 L650.0,655.0 L652.0,654.9 L654.0,654.8 L656.0,654.8 L658.0,654.7 L660.0,654.6 L662.0,654.6 L664.0,654.5 L666.0,654.5 L668.0,654.4 L670.0,654.3 L672.0,654.3 L674.0,654.2 L676.0,654.1 L678.0,654.1 L680.0,654.0 L682.0,653.9 L684.0,653.9 L686.1,653.8 L688.1,653.7 L690.1,653.7 L692.1,653.6 L694.1,653.5 L696.1,653.4 L698.1,653.4 L700.1,653.3 L702.1,653.2 L704.1,653.1 L706.1,653.1 L708.1,653.0 L710.1,652.9 L712.1,652.8 L714.1,652.8 L716.1,652.7 L718.1,652.6 L720.1,652.5 L722.1,652.4 L724.1,652.4 L726.1,652.3 L728.1,652.2 L730.1,652.1 L732.1,652.0 L734.1,652.0 L736.1,651.9 L738.1,651.8 L740.1,651.7 L742.1,651.6 L744.1,651.5 L746.1,651.5 L748.1,651.4 L750.1,651.3 L752.1,651.2 L754.1,651.1 L756.1,651.0 L758.1,650.9 L760.1,650.8 L762.1,650.7 L764.1,650.7 L766.1,650.6 L768.1,650.5 L770.1,650.4 L772.1,650.3 L774.1,650.2 L776.1,650.1 L778.1,650.0 L780.1,649.9 L782.1,649.8 L784.1,649.7 L786.1,649.6 L788.1,649.5 L790.1,649.4 L792.1,649.3 L794.1,649.2 L796.1,649.1 L798.1,649.0 L800.1,648.9 L802.1,648.8 L804.1,648.7 L806.1,648.6 L808.1,648.5 L810.1,648.4 L812.1,648.3 L814.1,648.2 L816.1,648.1 L818.1,648.0 L820.1,647.9 L822.1,647.8 L824.1,647.7 L826.1,647.6 L828.1,647.5 L830.1,647.4 L832.1,647.3 L834.1,647.1 L836.1,647.0 L838.1,646.9 L840.1,646.8 L842.1,646.7 L844.1,646.6 L846.1,646.5 L848.1,646.4 L850.1,646.3 L852.1,646.1 L854.1,646.0 L856.1,645.9 L858.1,645.8 L860.1,645.7 L862.1,645.6 L864.1,645.5 L866.1,645.3 L868.1,645.2 L870.1,645.1 L872.1,645.0 L874.1,644.9 L876.1,644.8 L878.1,644.6 L880.1,644.5 L882.1,644.4 L884.1,644.3 L886.1,644.2 L888.1,644.0 L890.1,643.9 L892.1,643.8 L894.1,643.7 L896.1,643.5 L898.1,643.4 L900.1,643.3 L902.1,643.2 L904.1,643.0 L906.1,642.9 L908.1,642.8 L910.1,642.7 L912.1,642.5 L914.1,642.4 L916.1,642.3 L918.1,642.2 L920.1,642.0 L922.1,641.9 L924.1,641.8 L926.1,641.6 L928.1,641.5 L930.1,641.4 L932.1,641.2 L934.1,641.1 L936.1,641.0 L938.1,640.9 L940.1,640.7 L942.1,640.6 L944.1,640.5 L946.1,640.3 L948.1,640.2 L950.1,640.1 L952.1,639.9 L954.1,639.8 L956.1,639.6 L958.1,639.5 L960.1,639.4 L962.1,639.2 L964.1,639.1 L966.1,639.0 L968.1,638.8 L970.1,638.7 L972.1,638.5 L974.1,638.4 L976.1,638.3 L978.1,638.1 L980.1,638.0 L982.1,637.8 L984.1,637.7 L986.1,637.6 L988.1,637.4 L990.1,637.3 L992.1,637.1 L994.1,637.0 L996.1,636.8 L998.1,636.7 L1000.1,636.6 L1002.2,636.4 L1004.2,636.3 L1006.2,636.1 L1008.2,636.0 L1010.2,635.8 L1012.2,635.7 L1014.2,635.5 L1016.2,635.4 L1018.2,635.2 L1020.2,635.1 L1022.2,634.9 L1024.2,634.8 L1026.2,634.6 L1028.2,634.5 L1030.2,634.3 L1032.2,634.2 L1034.2,634.0 L1036.2,633.9 L1038.2,633.7 L1040.2,633.6 L1042.2,633.4 L1044.2,633.3 L1046.2,633.1 L1048.2,633.0 L1050.2,632.8 L1052.2,632.7 L1054.2,632.5 L1056.2,632.4 L1058.2,632.2 L1060.2,632.1 L1062.2,631.9 L1064.2,631.7 L1066.2,631.6 L1068.2,631.4 L1070.2,631.3 L1072.2,631.1 L1074.2,631.0 L1076.2,630.8 L1078.2,630.6 L1080.2,630.5 L1082.2,630.3 L1084.2,630.2 L1086.2,630.0 L1088.2,629.8 L1090.2,629.7 L1092.2,629.5 L1094.2,629.4 L1096.2,629.2 L1098.2,629.0 L1100.2,628.9 L1102.2,628.7 L1104.2,628.6 L1106.2,628.4 L1108.2,628.2 L1110.2,628.1 L1112.2,627.9 L1114.2,627.7 L1116.2,627.6 L1118.2,627.4 L1120.2,627.2 L1122.2,627.1 L1124.2,626.9 L1126.2,626.7 L1128.2,626.6 L1130.2,626.4 L1132.2,626.2 L1134.2,626.1 L1136.2,625.9 L1138.2,625.7 L1140.2,625.6 L1142.2,625.4 L1144.2,625.2 L1146.2,625.1 L1148.2,624.9 L1150.2,624.7 L1152.2,624.6 L1154.2,624.4 L1156.2,624.2 L1158.2,624.1 L1160.2,623.9 L1162.2,623.7 L1164.2,623.5 L1166.2,623.4 L1168.2,623.2 L1170.2,623.0 L1172.2,622.9 L1174.2,622.7 L1176.2,622.5 L1178.2,622.3 L1180.2,622.2 L1182.2,622.0 L1184.2,621.8 L1186.2,621.6 L1188.2,621.5 L1190.2,621.3 L1192.2,621.1 L1194.2,620.9 L1196.2,620.8 L1198.2,620.6 L1200.2,620.4 L1202.2,620.2 L1204.2,620.1 L1206.2,619.9 L1208.2,619.7 L1210.2,619.5 L1212.2,619.4 L1214.2,619.2 L1216.2,619.0 L1218.2,618.8 L1220.2,618.7 L1222.2,618.5 L1224.2,618.3 L1226.2,618.1 L1228.2,617.9 L1230.2,617.8 L1232.2,617.6 L1234.2,617.4 L1236.2,617.2 L1238.2,617.0 L1240.2,616.9 L1242.2,616.7 L1244.2,616.5 L1246.2,616.3 L1248.2,616.1 L1250.2,616.0 L1252.2,615.8 L1254.2,615.6 L1256.2,615.4 L1258.2,615.2 L1260.2,615.0 L1262.2,614.9 L1264.2,614.7 L1266.2,614.5 L1268.2,614.3 L1270.2,614.1 L1272.2,613.9 L1274.2,613.8 L1276.2,613.6 L1278.2,613.4 L1280.2,613.2 L1282.2,613.0 L1284.2,612.8 L1286.2,612.7 L1288.2,612.5 L1290.2,612.3 L1292.2,612.1 L1294.2,611.9 L1296.2,611.7 L1298.2,611.5 L1300.2,611.3 L1302.2,611.2 L1304.2,611.0 L1306.2,610.8 L1308.2,610.6 L1310.2,610.4 L1312.2,610.2 L1314.2,610.0 L1316.2,609.9 L1318.2,609.7 L1320.3,609.5 L1322.3,609.3 L1324.3,609.1 L1326.3,608.9 L1328.3,608.7 L1330.3,608.5 L1332.3,608.3 L1334.3,608.2 L1336.3,608.0 L1338.3,607.8 L1340.3,607.6 L1342.3,607.4 L1344.3,607.2 L1346.3,607.0 L1348.3,606.8 L1350.3,606.6 L1352.3,606.4 L1354.3,606.3 L1356.3,606.1 L1358.3,605.9 L1360.3,605.7 L1362.3,605.5 L1364.3,605.3 L1366.3,605.1 L1368.3,604.9 L1370.3,604.7 L1372.3,604.5 L1374.3,604.3 L1376.3,604.1 L1378.3,604.0 L1380.3,603.8 L1382.3,603.6 L1384.3,603.4 L1386.3,603.2 L1388.3,603.0 L1390.3,602.8 L1392.3,602.6 L1394.3,602.4 L1396.3,602.2 L1398.3,602.0 L1400.3,601.8 L1402.3,601.6 L1404.3,601.4 L1406.3,601.2 L1408.3,601.0 L1410.3,600.9 L1412.3,600.7 L1414.3,600.5 L1416.3,600.3 L1418.3,600.1 L1420.3,599.9 L1422.3,599.7 L1424.3,599.5 L1426.3,599.3 L1428.3,599.1 L1430.3,598.9 L1432.3,598.7 L1434.3,598.5 L1436.3,598.3 L1438.3,598.1 L1440.3,597.9 L1442.3,597.7 L1444.3,597.5 L1446.3,597.3 L1448.3,597.1 L1450.3,596.9 L1452.3,596.7 L1454.3,596.6 L1456.3,596.4 L1458.3,596.2 L1460.3,596.0 L1462.3,595.8 L1464.3,595.6 L1466.3,595.4 L1468.3,595.2 L1470.3,595.0 L1472.3,594.8 L1474.3,594.6 L1476.3,594.4 L1478.3,594.2 L1480.3,594.0 L1482.3,593.8 L1484.3,593.6 L1486.3,593.4 L1488.3,593.2 L1490.3,593.0 L1492.3,592.8 L1494.3,592.6 L1496.3,592.4 L1498.3,592.2 L1500.3,592.0 L1502.3,591.8 L1504.3,591.6 L1506.3,591.4 L1508.3,591.2 L1510.3,591.0 L1512.3,590.8 L1514.3,590.6 L1516.3,590.4 L1518.3,590.2 L1520.3,590.0 L1522.3,589.8 L1524.3,589.6 L1526.3,589.4 L1528.3,589.2 L1530.3,589.0 L1532.3,588.8 L1534.3,588.6 L1536.3,588.4 L1538.3,588.2 L1540.3,588.0 L1542.3,587.8 L1544.3,587.6 L1546.3,587.4 L1548.3,587.2 L1550.3,587.0 L1552.3,586.8 L1554.3,586.6 L1556.3,586.4 L1558.3,586.2 L1560.3,586.1 L1562.3,585.9 L1564.3,585.7 L1566.3,585.5 L1568.3,585.3 L1570.3,585.1 L1572.3,584.9 L1574.3,584.7 L1576.3,584.5 L1578.3,584.3 L1580.3,584.1 L1582.3,583.9 L1584.3,583.7 L1586.3,583.5 L1588.3,583.3 L1590.3,583.1 L1592.3,582.9 L1594.3,582.7 L1596.3,582.5 L1598.3,582.3 L1600.3,582.1 L1602.3,581.9 L1604.3,581.7 L1606.3,581.5 L1608.3,581.3 L1610.3,581.1 L1612.3,580.9 L1614.3,580.7 L1616.3,580.5 L1618.3,580.3 L1620.3,580.1 L1622.3,579.9 L1624.3,579.7 L1626.3,579.5 L1628.3,579.3 L1630.3,579.1 L1632.3,578.9 L1634.3,578.7 L1636.3,578.5 L1638.4,578.3 L1640.4,578.1 L1642.4,577.9 L1644.4,577.7 L1646.4,577.5 L1648.4,577.3 L1650.4,577.1 L1652.4,576.9 L1654.4,576.7 L1656.4,576.5 L1658.4,576.3 L1660.4,576.1 L1662.4,575.9 L1664.4,575.7 L1666.4,575.5 L1668.4,575.3 L1670.4,575.1 L1672.4,574.9 L1674.4,574.7 L1676.4,574.5 L1678.4,574.3 L1680.4,574.1 L1682.4,573.9 L1684.4,573.7 L1686.4,573.5 L1688.4,573.3 L1690.4,573.1 L1692.4,573.0 L1694.4,572.8 L1696.4,572.6 L1698.4,572.4 L1700.4,572.2 L1702.4,572.0 L1704.4,571.8 L1706.4,571.6 L1708.4,571.4 L1710.4,571.2 L1712.4,571.0 L1714.4,570.8 L1716.4,570.6 L1718.4,570.4 L1720.4,570.2 L1722.4,570.0 L1724.4,569.8 L1726.4,569.6 L1728.4,569.4 L1730.4,569.2 L1732.4,569.0 L1734.4,568.8 L1736.4,568.6 L1738.4,568.4 L1740.4,568.2 L1742.4,568.1 L1744.4,567.9 L1746.4,567.7 L1748.4,567.5 L1750.4,567.3 L1752.4,567.1 L1754.4,566.9 L1756.4,566.7 L1758.4,566.5 L1760.4,566.3 L1762.4,566.1 L1764.4,565.9 L1766.4,565.7 L1768.4,565.5 L1770.4,565.3 L1772.4,565.1 L1774.4,565.0 L1776.4,564.8 L1778.4,564.6 L1780.4,564.4 L1782.4,564.2 L1784.4,564.0 L1786.4,563.8 L1788.4,563.6 L1790.4,563.4 L1792.4,563.2 L1794.4,563.0 L1796.4,562.8 L1798.4,562.6 L1800.4,562.5 L1802.4,562.3 L1804.4,562.1 L1806.4,561.9 L1808.4,561.7 L1810.4,561.5 L1812.4,561.3 L1814.4,561.1 L1816.4,560.9 L1818.4,560.7 L1820.4,560.6 L1822.4,560.4 L1824.4,560.2 L1826.4,560.0 L1828.4,559.8 L1830.4,559.6 L1832.4,559.4 L1834.4,559.2 L1836.4,559.0 L1838.4,558.9 L1840.4,558.7 L1842.4,558.5 L1844.4,558.3 L1846.4,558.1 L1848.4,557.9 L1850.4,557.7 L1852.4,557.5 L1854.4,557.4 L1856.4,557.2 L1858.4,557.0 L1860.4,556.8 L1862.4,556.6 L1864.4,556.4 L1866.4,556.2 L1868.4,556.1 L1870.4,555.9 L1872.4,555.7 L1874.4,555.5 L1876.4,555.3 L1878.4,555.1 L1880.4,554.9 L1882.4,554.8 L1884.4,554.6 L1886.4,554.4 L1888.4,554.2 L1890.4,554.0 L1892.4,553.8 L1894.4,553.7 L1896.4,553.5 L1898.4,553.3 L1900.4,553.1 L1902.4,552.9 L1904.4,552.7 L1906.4,552.6 L1908.4,552.4 L1910.4,552.2 L1912.4,552.0 L1914.4,551.8 L1916.4,551.7 L1918.4,551.5 L1920.4,551.3 L1922.4,551.1 L1924.4,550.9 L1926.4,550.8 L1928.4,550.6 L1930.4,550.4 L1932.4,550.2 L1934.4,550.0 L1936.4,549.9 L1938.4,549.7 L1940.4,549.5 L1942.4,549.3 L1944.4,549.2 L1946.4,549.0 L1948.4,548.8 L1950.4,548.6 L1952.4,548.4 L1954.5,548.3 L1956.5,548.1 L1958.5,547.9 L1960.5,547.7 L1962.5,547.6 L1964.5,547.4 L1966.5,547.2 L1968.5,547.0 L1970.5,546.9 L1972.5,546.7 L1974.5,546.5 L1976.5,546.3 L1978.5,546.2 L1980.5,546.0 L1982.5,545.8 L1984.5,545.7 L1986.5,545.5 L1988.5,545.3 L1990.5,545.1 L1992.5,545.0 L1994.5,544.8 L1996.5,544.6 L1998.5,544.5 L2000.5,544.3 L2002.5,544.1 L2004.5,543.9 L2006.5,543.8 L2008.5,543.6 L2010.5,543.4 L2012.5,543.3 L2014.5,543.1 L2016.5,542.9 L2018.5,542.8 L2020.5,542.6 L2022.5,542.4 L2024.5,542.3 L2026.5,542.1 L2028.5,541.9 L2030.5,541.8 L2032.5,541.6 L2034.5,541.4 L2036.5,541.3 L2038.5,541.1 L2040.5,540.9 L2042.5,540.8 L2044.5,540.6 L2046.5,540.5 L2048.5,540.3 L2050.5,540.1 L2052.5,540.0 L2054.5,539.8 L2056.5,539.6 L2058.5,539.5 L2060.5,539.3 L2062.5,539.2 L2064.5,539.0 L2066.5,538.8 L2068.5,538.7 L2070.5,538.5 L2072.5,538.4 L2074.5,538.2 L2076.5,538.0 L2078.5,537.9 L2080.5,537.7 L2082.5,537.6 L2084.5,537.4 L2086.5,537.2 L2088.5,537.1 L2090.5,536.9 L2092.5,536.8 L2094.5,536.6 L2096.5,536.5 L2098.5,536.3 L2100.5,536.2 L2102.5,536.0 L2104.5,535.8 L2106.5,535.7 L2108.5,535.5 L2110.5,535.4 L2112.5,535.2 L2112.5,546.0 L2110.5,546.2 L2108.5,546.3 L2106.5,546.5 L2104.5,546.6 L2102.5,546.8 L2100.5,547.0 L2098.5,547.1 L2096.5,547.3 L2094.5,547.4 L2092.5,547.6 L2090.5,547.7 L2088.5,547.9 L2086.5,548.0 L2084.5,548.2 L2082.5,548.4 L2080.5,548.5 L2078.5,548.7 L2076.5,548.8 L2074.5,549.0 L2072.5,549.2 L2070.5,549.3 L2068.5,549.5 L2066.5,549.6 L2064.5,549.8 L2062.5,550.0 L2060.5,550.1 L2058.5,550.3 L2056.5,550.4 L2054.5,550.6 L2052.5,550.8 L2050.5,550.9 L2048.5,551.1 L2046.5,551.3 L2044.5,551.4 L2042.5,551.6 L2040.5,551.7 L2038.5,551.9 L2036.5,552.1 L2034.5,552.2 L2032.5,552.4 L2030.5,552.6 L2028.5,552.7 L2026.5,552.9 L2024.5,553.1 L2022.5,553.2 L2020.5,553.4 L2018.5,553.6 L2016.5,553.7 L2014.5,553.9 L2012.5,554.1 L2010.5,554.2 L2008.5,554.4 L2006.5,554.6 L2004.5,554.7 L2002.5,554.9 L2000.5,555.1 L1998.5,555.3 L1996.5,555.4 L1994.5,555.6 L1992.5,555.8 L1990.5,555.9 L1988.5,556.1 L1986.5,556.3 L1984.5,556.5 L1982.5,556.6 L1980.5,556.8 L1978.5,557.0 L1976.5,557.1 L1974.5,557.3 L1972.5,557.5 L1970.5,557.7 L1968.5,557.8 L1966.5,558.0 L1964.5,558.2 L1962.5,558.4 L1960.5,558.5 L1958.5,558.7 L1956.5,558.9 L1954.5,559.1 L1952.4,559.2 L1950.4,559.4 L1948.4,559.6 L1946.4,559.8 L1944.4,560.0 L1942.4,560.1 L1940.4,560.3 L1938.4,560.5 L1936.4,560.7 L1934.4,560.8 L1932.4,561.0 L1930.4,561.2 L1928.4,561.4 L1926.4,561.6 L1924.4,561.7 L1922.4,561.9 L1920.4,562.1 L1918.4,562.3 L1916.4,562.5 L1914.4,562.6 L1912.4,562.8 L1910.4,563.0 L1908.4,563.2 L1906.4,563.4 L1904.4,563.5 L1902.4,563.7 L1900.4,563.9 L1898.4,564.1 L1896.4,564.3 L1894.4,564.5 L1892.4,564.6 L1890.4,564.8 L1888.4,565.0 L1886.4,565.2 L1884.4,565.4 L1882.4,565.6 L1880.4,565.7 L1878.4,565.9 L1876.4,566.1 L1874.4,566.3 L1872.4,566.5 L1870.4,566.7 L1868.4,566.9 L1866.4,567.0 L1864.4,567.2 L1862.4,567.4 L1860.4,567.6 L1858.4,567.8 L1856.4,568.0 L1854.4,568.2 L1852.4,568.3 L1850.4,568.5 L1848.4,568.7 L1846.4,568.9 L1844.4,569.1 L1842.4,569.3 L1840.4,569.5 L1838.4,569.7 L1836.4,569.8 L1834.4,570.0 L1832.4,570.2 L1830.4,570.4 L1828.4,570.6 L1826.4,570.8 L1824.4,571.0 L1822.4,571.2 L1820.4,571.4 L1818.4,571.5 L1816.4,571.7 L1814.4,571.9 L1812.4,572.1 L1810.4,572.3 L1808.4,572.5 L1806.4,572.7 L1804.4,572.9 L1802.4,573.1 L1800.4,573.3 L1798.4,573.4 L1796.4,573.6 L1794.4,573.8 L1792.4,574.0 L1790.4,574.2 L1788.4,574.4 L1786.4,574.6 L1784.4,574.8 L1782.4,575.0 L1780.4,575.2 L1778.4,575.4 L1776.4,575.6 L1774.4,575.8 L1772.4,575.9 L1770.4,576.1 L1768.4,576.3 L1766.4,576.5 L1764.4,576.7 L1762.4,576.9 L1760.4,577.1 L1758.4,577.3 L1756.4,577.5 L1754.4,577.7 L1752.4,577.9 L1750.4,578.1 L1748.4,578.3 L1746.4,578.5 L1744.4,578.7 L1742.4,578.9 L1740.4,579.0 L1738.4,579.2 L1736.4,579.4 L1734.4,579.6 L1732.4,579.8 L1730.4,580.0 L1728.4,580.2 L1726.4,580.4 L1724.4,580.6 L1722.4,580.8 L1720.4,581.0 L1718.4,581.2 L1716.4,581.4 L1714.4,581.6 L1712.4,581.8 L1710.4,582.0 L1708.4,582.2 L1706.4,582.4 L1704.4,582.6 L1702.4,582.8 L1700.4,583.0 L1698.4,583.2 L1696.4,583.4 L1694.4,583.6 L1692.4,583.8 L1690.4,583.9 L1688.4,584.1 L1686.4,584.3 L1684.4,584.5 L1682.4,584.7 L1680.4,584.9 L1678.4,585.1 L1676.4,585.3 L1674.4,585.5 L1672.4,585.7 L1670.4,585.9 L1668.4,586.1 L1666.4,586.3 L1664.4,586.5 L1662.4,586.7 L1660.4,586.9 L1658.4,587.1 L1656.4,587.3 L1654.4,587.5 L1652.4,587.7 L1650.4,587.9 L1648.4,588.1 L1646.4,588.3 L1644.4,588.5 L1642.4,588.7 L1640.4,588.9 L1638.4,589.1 L1636.3,589.3 L1634.3,589.5 L1632.3,589.7 L1630.3,589.9 L1628.3,590.1 L1626.3,590.3 L1624.3,590.5 L1622.3,590.7 L1620.3,590.9 L1618.3,591.1 L1616.3,591.3 L1614.3,591.5 L1612.3,591.7 L1610.3,591.9 L1608.3,592.1 L1606.3,592.3 L1604.3,592.5 L1602.3,592.7 L1600.3,592.9 L1598.3,593.1 L1596.3,593.3 L1594.3,593.5 L1592.3,593.7 L1590.3,593.9 L1588.3,594.1 L1586.3,594.3 L1584.3,594.5 L1582.3,594.7 L1580.3,594.9 L1578.3,595.1 L1576.3,595.3 L1574.3,595.5 L1572.3,595.7 L1570.3,595.9 L1568.3,596.1 L1566.3,596.3 L1564.3,596.5 L1562.3,596.7 L1560.3,596.9 L1558.3,597.0 L1556.3,597.2 L1554.3,597.4 L1552.3,597.6 L1550.3,597.8 L1548.3,598.0 L1546.3,598.2 L1544.3,598.4 L1542.3,598.6 L1540.3,598.8 L1538.3,599.0 L1536.3,599.2 L1534.3,599.4 L1532.3,599.6 L1530.3,599.8 L1528.3,600.0 L1526.3,600.2 L1524.3,600.4 L1522.3,600.6 L1520.3,600.8 L1518.3,601.0 L1516.3,601.2 L1514.3,601.4 L1512.3,601.6 L1510.3,601.8 L1508.3,602.0 L1506.3,602.2 L1504.3,602.4 L1502.3,602.6 L1500.3,602.8 L1498.3,603.0 L1496.3,603.2 L1494.3,603.4 L1492.3,603.6 L1490.3,603.8 L1488.3,604.0 L1486.3,604.2 L1484.3,604.4 L1482.3,604.6 L1480.3,604.8 L1478.3,605.0 L1476.3,605.2 L1474.3,605.4 L1472.3,605.6 L1470.3,605.8 L1468.3,606.0 L1466.3,606.2 L1464.3,606.4 L1462.3,606.6 L1460.3,606.8 L1458.3,607.0 L1456.3,607.2 L1454.3,607.4 L1452.3,607.5 L1450.3,607.7 L1448.3,607.9 L1446.3,608.1 L1444.3,608.3 L1442.3,608.5 L1440.3,608.7 L1438.3,608.9 L1436.3,609.1 L1434.3,609.3 L1432.3,609.5 L1430.3,609.7 L1428.3,609.9 L1426.3,610.1 L1424.3,610.3 L1422.3,610.5 L1420.3,610.7 L1418.3,610.9 L1416.3,611.1 L1414.3,611.3 L1412.3,611.5 L1410.3,611.7 L1408.3,611.8 L1406.3,612.0 L1404.3,612.2 L1402.3,612.4 L1400.3,612.6 L1398.3,612.8 L1396.3,613.0 L1394.3,613.2 L1392.3,613.4 L1390.3,613.6 L1388.3,613.8 L1386.3,614.0 L1384.3,614.2 L1382.3,614.4 L1380.3,614.6 L1378.3,614.8 L1376.3,614.9 L1374.3,615.1 L1372.3,615.3 L1370.3,615.5 L1368.3,615.7 L1366.3,615.9 L1364.3,616.1 L1362.3,616.3 L1360.3,616.5 L1358.3,616.7 L1356.3,616.9 L1354.3,617.1 L1352.3,617.2 L1350.3,617.4 L1348.3,617.6 L1346.3,617.8 L1344.3,618.0 L1342.3,618.2 L1340.3,618.4 L1338.3,618.6 L1336.3,618.8 L1334.3,619.0 L1332.3,619.1 L1330.3,619.3 L1328.3,619.5 L1326.3,619.7 L1324.3,619.9 L1322.3,620.1 L1320.3,620.3 L1318.2,620.5 L1316.2,620.7 L1314.2,620.8 L1312.2,621.0 L1310.2,621.2 L1308.2,621.4 L1306.2,621.6 L1304.2,621.8 L1302.2,622.0 L1300.2,622.1 L1298.2,622.3 L1296.2,622.5 L1294.2,622.7 L1292.2,622.9 L1290.2,623.1 L1288.2,623.3 L1286.2,623.5 L1284.2,623.6 L1282.2,623.8 L1280.2,624.0 L1278.2,624.2 L1276.2,624.4 L1274.2,624.6 L1272.2,624.7 L1270.2,624.9 L1268.2,625.1 L1266.2,625.3 L1264.2,625.5 L1262.2,625.7 L1260.2,625.8 L1258.2,626.0 L1256.2,626.2 L1254.2,626.4 L1252.2,626.6 L1250.2,626.8 L1248.2,626.9 L1246.2,627.1 L1244.2,627.3 L1242.2,627.5 L1240.2,627.7 L1238.2,627.8 L1236.2,628.0 L1234.2,628.2 L1232.2,628.4 L1230.2,628.6 L1228.2,628.7 L1226.2,628.9 L1224.2,629.1 L1222.2,629.3 L1220.2,629.5 L1218.2,629.6 L1216.2,629.8 L1214.2,630.0 L1212.2,630.2 L1210.2,630.3 L1208.2,630.5 L1206.2,630.7 L1204.2,630.9 L1202.2,631.0 L1200.2,631.2 L1198.2,631.4 L1196.2,631.6 L1194.2,631.7 L1192.2,631.9 L1190.2,632.1 L1188.2,632.3 L1186.2,632.4 L1184.2,632.6 L1182.2,632.8 L1180.2,633.0 L1178.2,633.1 L1176.2,633.3 L1174.2,633.5 L1172.2,633.7 L1170.2,633.8 L1168.2,634.0 L1166.2,634.2 L1164.2,634.3 L1162.2,634.5 L1160.2,634.7 L1158.2,634.9 L1156.2,635.0 L1154.2,635.2 L1152.2,635.4 L1150.2,635.5 L1148.2,635.7 L1146.2,635.9 L1144.2,636.0 L1142.2,636.2 L1140.2,636.4 L1138.2,636.5 L1136.2,636.7 L1134.2,636.9 L1132.2,637.0 L1130.2,637.2 L1128.2,637.4 L1126.2,637.5 L1124.2,637.7 L1122.2,637.9 L1120.2,638.0 L1118.2,638.2 L1116.2,638.4 L1114.2,638.5 L1112.2,638.7 L1110.2,638.9 L1108.2,639.0 L1106.2,639.2 L1104.2,639.4 L1102.2,639.5 L1100.2,639.7 L1098.2,639.8 L1096.2,640.0 L1094.2,640.2 L1092.2,640.3 L1090.2,640.5 L1088.2,640.6 L1086.2,640.8 L1084.2,641.0 L1082.2,641.1 L1080.2,641.3 L1078.2,641.4 L1076.2,641.6 L1074.2,641.8 L1072.2,641.9 L1070.2,642.1 L1068.2,642.2 L1066.2,642.4 L1064.2,642.5 L1062.2,642.7 L1060.2,642.9 L1058.2,643.0 L1056.2,643.2 L1054.2,643.3 L1052.2,643.5 L1050.2,643.6 L1048.2,643.8 L1046.2,643.9 L1044.2,644.1 L1042.2,644.2 L1040.2,644.4 L1038.2,644.5 L1036.2,644.7 L1034.2,644.8 L1032.2,645.0 L1030.2,645.1 L1028.2,645.3 L1026.2,645.4 L1024.2,645.6 L1022.2,645.7 L1020.2,645.9 L1018.2,646.0 L1016.2,646.2 L1014.2,646.3 L1012.2,646.5 L1010.2,646.6 L1008.2,646.8 L1006.2,646.9 L1004.2,647.1 L1002.2,647.2 L1000.1,647.4 L998.1,647.5 L996.1,647.6 L994.1,647.8 L992.1,647.9 L990.1,648.1 L988.1,648.2 L986.1,648.4 L984.1,648.5 L982.1,648.6 L980.1,648.8 L978.1,648.9 L976.1,649.1 L974.1,649.2 L972.1,649.3 L970.1,649.5 L968.1,649.6 L966.1,649.8 L964.1,649.9 L962.1,650.0 L960.1,650.2 L958.1,650.3 L956.1,650.4 L954.1,650.6 L952.1,650.7 L950.1,650.9 L948.1,651.0 L946.1,651.1 L944.1,651.3 L942.1,651.4 L940.1,651.5 L938.1,651.7 L936.1,651.8 L934.1,651.9 L932.1,652.0 L930.1,652.2 L928.1,652.3 L926.1,652.4 L924.1,652.6 L922.1,652.7 L920.1,652.8 L918.1,653.0 L916.1,653.1 L914.1,653.2 L912.1,653.3 L910.1,653.5 L908.1,653.6 L906.1,653.7 L904.1,653.8 L902.1,654.0 L900.1,654.1 L898.1,654.2 L896.1,654.3 L894.1,654.5 L892.1,654.6 L890.1,654.7 L888.1,654.8 L886.1,655.0 L884.1,655.1 L882.1,655.2 L880.1,655.3 L878.1,655.4 L876.1,655.6 L874.1,655.7 L872.1,655.8 L870.1,655.9 L868.1,656.0 L866.1,656.1 L864.1,656.3 L862.1,656.4 L860.1,656.5 L858.1,656.6 L856.1,656.7 L854.1,656.8 L852.1,656.9 L850.1,657.1 L848.1,657.2 L846.1,657.3 L844.1,657.4 L842.1,657.5 L840.1,657.6 L838.1,657.7 L836.1,657.8 L834.1,657.9 L832.1,658.1 L830.1,658.2 L828.1,658.3 L826.1,658.4 L824.1,658.5 L822.1,658.6 L820.1,658.7 L818.1,658.8 L816.1,658.9 L814.1,659.0 L812.1,659.1 L810.1,659.2 L808.1,659.3 L806.1,659.4 L804.1,659.5 L802.1,659.6 L800.1,659.7 L798.1,659.8 L796.1,659.9 L794.1,660.0 L792.1,660.1 L790.1,660.2 L788.1,660.3 L786.1,660.4 L784.1,660.5 L782.1,660.6 L780.1,660.7 L778.1,660.8 L776.1,660.9 L774.1,661.0 L772.1,661.1 L770.1,661.2 L768.1,661.3 L766.1,661.4 L764.1,661.5 L762.1,661.5 L760.1,661.6 L758.1,661.7 L756.1,661.8 L754.1,661.9 L752.1,662.0 L750.1,662.1 L748.1,662.2 L746.1,662.3 L744.1,662.3 L742.1,662.4 L740.1,662.5 L738.1,662.6 L736.1,662.7 L734.1,662.8 L732.1,662.8 L730.1,662.9 L728.1,663.0 L726.1,663.1 L724.1,663.2 L722.1,663.2 L720.1,663.3 L718.1,663.4 L716.1,663.5 L714.1,663.6 L712.1,663.6 L710.1,663.7 L708.1,663.8 L706.1,663.9 L704.1,663.9 L702.1,664.0 L700.1,664.1 L698.1,664.2 L696.1,664.2 L694.1,664.3 L692.1,664.4 L690.1,664.5 L688.1,664.5 L686.1,664.6 L684.0,664.7 L682.0,664.7 L680.0,664.8 L678.0,664.9 L676.0,664.9 L674.0,665.0 L672.0,665.1 L670.0,665.1 L668.0,665.2 L666.0,665.3 L664.0,665.3 L662.0,665.4 L660.0,665.4 L658.0,665.5 L656.0,665.6 L654.0,665.6 L652.0,665.7 L650.0,665.8 L648.0,665.8 L646.0,665.9 L644.0,665.9 L642.0,666.0 L640.0,666.0 L638.0,666.1 L636.0,666.1 L634.0,666.2 L632.0,666.3 L630.0,666.3 L628.0,666.4 L626.0,666.4 L624.0,666.5 L622.0,666.5 L620.0,666.6 L618.0,666.6 L616.0,666.7 L614.0,666.7 L612.0,666.8 L610.0,666.8 L608.0,666.9 L606.0,666.9 L604.0,666.9 L602.0,667.0 L600.0,667.0 L598.0,667.1 L596.0,667.1 L594.0,667.2 L592.0,667.2 L590.0,667.2 L588.0,667.3 L586.0,667.3 L584.0,667.4 L582.0,667.4 L580.0,667.4 L578.0,667.5 L576.0,667.5 L574.0,667.5 L572.0,667.6 L570.0,667.6 L568.0,667.6 L566.0,667.7 L564.0,667.7 L562.0,667.7 L560.0,667.8 L558.0,667.8 L556.0,667.8 L554.0,667.9 L552.0,667.9 L550.0,667.9 L548.0,667.9 L546.0,668.0 L544.0,668.0 L542.0,668.0 L540.0,668.0 L538.0,668.1 L536.0,668.1 L534.0,668.1 L532.0,668.1 L530.0,668.1 L528.0,668.2 L526.0,668.2 z" fill="#000"/>
<path d="M2000.0,540.5 L2002.0,539.9 L2004.0,539.3 L2006.0,538.7 L2008.0,538.1 L2010.0,537.5 L2012.1,536.9 L2014.1,536.3 L2016.1,535.7 L2018.1,535.1 L2020.1,534.5 L2022.1,533.9 L2024.1,533.3 L2026.1,532.7 L2028.1,532.2 L2030.1,531.6 L2032.1,531.0 L2034.2,530.4 L2036.2,529.8 L2038.2,529.2 L2040.2,528.6 L2042.2,528.1 L2044.2,527.5 L2046.2,526.9 L2048.2,526.4 L2050.2,525.8 L2052.2,525.3 L2054.2,524.7 L2056.2,524.2 L2058.3,523.6 L2060.3,523.1 L2062.3,522.5 L2064.3,522.0 L2066.3,521.5 L2068.3,521.0 L2070.3,520.5 L2072.3,520.0 L2074.3,519.5 L2076.3,519.0 L2078.3,518.5 L2080.4,518.0 L2082.4,517.5 L2084.4,517.1 L2086.4,516.6 L2088.4,516.1 L2090.4,515.7 L2092.4,515.3 L2094.4,514.8 L2096.4,514.4 L2098.4,514.0 L2100.4,513.6 L2102.5,513.2 L2104.5,512.8 L2106.5,512.5 L2108.5,512.1 L2110.5,511.7 L2112.5,511.4 L2112.5,524.2 L2110.5,524.5 L2108.5,524.9 L2106.5,525.3 L2104.5,525.6 L2102.5,526.0 L2100.4,526.4 L2098.4,526.8 L2096.4,527.2 L2094.4,527.6 L2092.4,528.1 L2090.4,528.5 L2088.4,528.9 L2086.4,529.4 L2084.4,529.9 L2082.4,530.3 L2080.4,530.8 L2078.3,531.3 L2076.3,531.8 L2074.3,532.3 L2072.3,532.8 L2070.3,533.3 L2068.3,533.8 L2066.3,534.3 L2064.3,534.8 L2062.3,535.3 L2060.3,535.9 L2058.3,536.4 L2056.2,537.0 L2054.2,537.5 L2052.2,538.1 L2050.2,538.6 L2048.2,539.2 L2046.2,539.7 L2044.2,540.3 L2042.2,540.9 L2040.2,541.4 L2038.2,542.0 L2036.2,542.6 L2034.2,543.2 L2032.1,543.8 L2030.1,544.4 L2028.1,545.0 L2026.1,545.5 L2024.1,546.1 L2022.1,546.7 L2020.1,547.3 L2018.1,547.9 L2016.1,548.5 L2014.1,549.1 L2012.1,549.7 L2010.0,550.3 L2008.0,550.9 L2006.0,551.5 L2004.0,552.1 L2002.0,552.7 L2000.0,553.3 z" fill="#ff0000"/>
<path d="M531.0,833.0 L533.0,833.0 L535.0,833.0 L537.0,833.0 L539.0,833.0 L541.0,833.0 L543.0,833.0 L545.0,833.0 L547.0,833.0 L549.0,833.0 L551.0,833.0 L553.0,833.0 L555.0,832.9 L557.0,832.9 L559.0,832.9 L561.0,832.9 L563.0,832.9 L565.0,832.8 L567.0,832.8 L569.0,832.8 L571.0,832.7 L573.0,832.7 L575.1,832.7 L577.1,832.6 L579.1,832.6 L581.1,832.5 L583.1,832.5 L585.1,832.5 L587.1,832.4 L589.1,832.4 L591.1,832.3 L593.1,832.3 L595.1,832.2 L597.1,832.1 L599.1,832.1 L601.1,832.0 L603.1,832.0 L605.1,831.9 L607.1,831.8 L609.1,831.8 L611.1,831.7 L613.1,831.6 L615.1,831.6 L617.1,831.5 L619.1,831.4 L621.1,831.3 L623.1,831.3 L625.1,831.2 L627.1,831.1 L629.1,831.0 L631.1,830.9 L633.1,830.8 L635.1,830.7 L637.1,830.7 L639.1,830.6 L641.1,830.5 L643.1,830.4 L645.1,830.3 L647.1,830.2 L649.1,830.1 L651.1,830.0 L653.1,829.9 L655.1,829.8 L657.1,829.7 L659.1,829.6 L661.2,829.5 L663.2,829.4 L665.2,829.3 L667.2,829.1 L669.2,829.0 L671.2,828.9 L673.2,828.8 L675.2,828.7 L677.2,828.6 L679.2,828.4 L681.2,828.3 L683.2,828.2 L685.2,828.1 L687.2,828.0 L689.2,827.8 L691.2,827.7 L693.2,827.6 L695.2,827.5 L697.2,827.3 L699.2,827.2 L701.2,827.1 L703.2,826.9 L705.2,826.8 L707.2,826.7 L709.2,826.5 L711.2,826.4 L713.2,826.3 L715.2,826.1 L717.2,826.0 L719.2,825.8 L721.2,825.7 L723.2,825.6 L725.2,825.4 L727.2,825.3 L729.2,825.1 L731.2,825.0 L733.2,824.8 L735.2,824.7 L737.2,824.5 L739.2,824.4 L741.2,824.2 L743.2,824.1 L745.3,823.9 L747.3,823.8 L749.3,823.6 L751.3,823.5 L753.3,823.3 L755.3,823.2 L757.3,823.0 L759.3,822.9 L761.3,822.7 L763.3,822.5 L765.3,822.4 L767.3,822.2 L769.3,822.1 L771.3,821.9 L773.3,821.7 L775.3,821.6 L777.3,821.4 L779.3,821.3 L781.3,821.1 L783.3,820.9 L785.3,820.8 L787.3,820.6 L789.3,820.4 L791.3,820.3 L793.3,820.1 L795.3,819.9 L797.3,819.8 L799.3,819.6 L801.3,819.4 L803.3,819.3 L805.3,819.1 L807.3,818.9 L809.3,818.8 L811.3,818.6 L813.3,818.4 L815.3,818.2 L817.3,818.1 L819.3,817.9 L821.3,817.7 L823.3,817.6 L825.3,817.4 L827.3,817.2 L829.3,817.0 L831.4,816.9 L833.4,816.7 L835.4,816.5 L837.4,816.4 L839.4,816.2 L841.4,816.0 L843.4,815.8 L845.4,815.7 L847.4,815.5 L849.4,815.3 L851.4,815.1 L853.4,815.0 L855.4,814.8 L857.4,814.6 L859.4,814.4 L861.4,814.3 L863.4,814.1 L865.4,813.9 L867.4,813.7 L869.4,813.5 L871.4,813.4 L873.4,813.2 L875.4,813.0 L877.4,812.8 L879.4,812.7 L881.4,812.5 L883.4,812.3 L885.4,812.1 L887.4,812.0 L889.4,811.8 L891.4,811.6 L893.4,811.4 L895.4,811.2 L897.4,811.1 L899.4,810.9 L901.4,810.7 L903.4,810.5 L905.4,810.4 L907.4,810.2 L909.4,810.0 L911.4,809.8 L913.4,809.7 L915.4,809.5 L917.5,809.3 L919.5,809.1 L921.5,808.9 L923.5,808.8 L925.5,808.6 L927.5,808.4 L929.5,808.2 L931.5,808.1 L933.5,807.9 L935.5,807.7 L937.5,807.5 L939.5,807.4 L941.5,807.2 L943.5,807.0 L945.5,806.8 L947.5,806.7 L949.5,806.5 L951.5,806.3 L953.5,806.2 L955.5,806.0 L957.5,805.8 L959.5,805.6 L961.5,805.5 L963.5,805.3 L965.5,805.1 L967.5,804.9 L969.5,804.8 L971.5,804.6 L973.5,804.4 L975.5,804.3 L977.5,804.1 L979.5,803.9 L981.5,803.8 L983.5,803.6 L985.5,803.4 L987.5,803.2 L989.5,803.1 L991.5,802.9 L993.5,802.7 L995.5,802.6 L997.5,802.4 L999.5,802.2 L1001.6,802.1 L1003.6,801.9 L1005.6,801.7 L1007.6,801.6 L1009.6,801.4 L1011.6,801.2 L1013.6,801.1 L1015.6,800.9 L1017.6,800.7 L1019.6,800.6 L1021.6,800.4 L1023.6,800.2 L1025.6,800.1 L1027.6,799.9 L1029.6,799.8 L1031.6,799.6 L1033.6,799.4 L1035.6,799.3 L1037.6,799.1 L1039.6,798.9 L1041.6,798.8 L1043.6,798.6 L1045.6,798.4 L1047.6,798.3 L1049.6,798.1 L1051.6,798.0 L1053.6,797.8 L1055.6,797.6 L1057.6,797.5 L1059.6,797.3 L1061.6,797.1 L1063.6,797.0 L1065.6,796.8 L1067.6,796.7 L1069.6,796.5 L1071.6,796.3 L1073.6,796.2 L1075.6,796.0 L1077.6,795.9 L1079.6,795.7 L1081.6,795.5 L1083.6,795.4 L1085.6,795.2 L1087.7,795.1 L1089.7,794.9 L1091.7,794.7 L1093.7,794.6 L1095.7,794.4 L1097.7,794.3 L1099.7,794.1 L1101.7,793.9 L1103.7,793.8 L1105.7,793.6 L1107.7,793.5 L1109.7,793.3 L1111.7,793.1 L1113.7,793.0 L1115.7,792.8 L1117.7,792.7 L1119.7,792.5 L1121.7,792.3 L1123.7,792.2 L1125.7,792.0 L1127.7,791.9 L1129.7,791.7 L1131.7,791.6 L1133.7,791.4 L1135.7,791.2 L1137.7,791.1 L1139.7,790.9 L1141.7,790.8 L1143.7,790.6 L1145.7,790.4 L1147.7,790.3 L1149.7,790.1 L1151.7,790.0 L1153.7,789.8 L1155.7,789.7 L1157.7,789.5 L1159.7,789.3 L1161.7,789.2 L1163.7,789.0 L1165.7,788.9 L1167.7,788.7 L1169.7,788.6 L1171.7,788.4 L1173.8,788.2 L1175.8,788.1 L1177.8,787.9 L1179.8,787.8 L1181.8,787.6 L1183.8,787.5 L1185.8,787.3 L1187.8,787.1 L1189.8,787.0 L1191.8,786.8 L1193.8,786.7 L1195.8,786.5 L1197.8,786.4 L1199.8,786.2 L1201.8,786.0 L1203.8,785.9 L1205.8,785.7 L1207.8,785.6 L1209.8,785.4 L1211.8,785.3 L1213.8,785.1 L1215.8,784.9 L1217.8,784.8 L1219.8,784.6 L1221.8,784.5 L1223.8,784.3 L1225.8,784.1 L1227.8,784.0 L1229.8,783.8 L1231.8,783.7 L1233.8,783.5 L1235.8,783.4 L1237.8,783.2 L1239.8,783.0 L1241.8,782.9 L1243.8,782.7 L1245.8,782.6 L1247.8,782.4 L1249.8,782.3 L1251.8,782.1 L1253.8,781.9 L1255.8,781.8 L1257.9,781.6 L1259.9,781.5 L1261.9,781.3 L1263.9,781.1 L1265.9,781.0 L1267.9,780.8 L1269.9,780.7 L1271.9,780.5 L1273.9,780.3 L1275.9,780.2 L1277.9,780.0 L1279.9,779.9 L1281.9,779.7 L1283.9,779.5 L1285.9,779.4 L1287.9,779.2 L1289.9,779.1 L1291.9,778.9 L1293.9,778.7 L1295.9,778.6 L1297.9,778.4 L1299.9,778.3 L1301.9,778.1 L1303.9,777.9 L1305.9,777.8 L1307.9,777.6 L1309.9,777.5 L1311.9,777.3 L1313.9,777.1 L1315.9,777.0 L1317.9,776.8 L1319.9,776.6 L1321.9,776.5 L1323.9,776.3 L1325.9,776.2 L1327.9,776.0 L1329.9,775.8 L1331.9,775.7 L1333.9,775.5 L1335.9,775.3 L1337.9,775.2 L1339.9,775.0 L1341.9,774.8 L1344.0,774.7 L1346.0,774.5 L1348.0,774.4 L1350.0,774.2 L1352.0,774.0 L1354.0,773.9 L1356.0,773.7 L1358.0,773.5 L1360.0,773.4 L1362.0,773.2 L1364.0,773.0 L1366.0,772.9 L1368.0,772.7 L1370.0,772.5 L1372.0,772.4 L1374.0,772.2 L1376.0,772.0 L1378.0,771.9 L1380.0,771.7 L1382.0,771.5 L1384.0,771.4 L1386.0,771.2" fill="none" stroke="#2a8a50" stroke-width="2.6"/>
<path d="M562.0,827.6 L564.0,827.6 L566.1,827.6 L568.1,827.5 L570.2,827.5 L572.2,827.5 L574.3,827.4 L576.3,827.4 L578.4,827.4 L580.4,827.3 L582.5,827.3 L584.5,827.2 L586.5,827.2 L588.6,827.1 L590.6,827.1 L592.7,827.0 L594.7,827.0 L596.8,826.9 L598.8,826.8 L600.9,826.8 L602.9,826.7 L605.0,826.7 L607.0,826.6 L607.0,837.1 L605.0,837.2 L602.9,837.2 L600.9,837.3 L598.8,837.3 L596.8,837.4 L594.7,837.5 L592.7,837.5 L590.6,837.6 L588.6,837.6 L586.5,837.7 L584.5,837.7 L582.5,837.8 L580.4,837.8 L578.4,837.9 L576.3,837.9 L574.3,837.9 L572.2,838.0 L570.2,838.0 L568.1,838.0 L566.1,838.1 L564.0,838.1 L562.0,838.1 z" fill="#02600a" stroke="#02600a" stroke-width="2" stroke-linejoin="round"/>
<path d="M633.0,825.6 L635.0,825.5 L637.1,825.4 L639.1,825.3 L641.2,825.2 L643.2,825.1 L645.3,825.0 L647.3,824.9 L649.4,824.8 L651.4,824.7 L653.5,824.6 L655.5,824.5 L657.6,824.4 L659.6,824.3 L661.7,824.2 L663.7,824.1 L665.8,824.0 L667.8,823.9 L669.9,823.7 L671.9,823.6 L674.0,823.5 L676.0,823.4 L676.0,833.9 L674.0,834.0 L671.9,834.1 L669.9,834.2 L667.8,834.4 L665.8,834.5 L663.7,834.6 L661.7,834.7 L659.6,834.8 L657.6,834.9 L655.5,835.0 L653.5,835.1 L651.4,835.2 L649.4,835.3 L647.3,835.4 L645.3,835.5 L643.2,835.6 L641.2,835.7 L639.1,835.8 L637.1,835.9 L635.0,836.0 L633.0,836.1 z" fill="#02600a" stroke="#02600a" stroke-width="2" stroke-linejoin="round"/>
<path d="M701.0,821.8 L703.0,821.7 L705.1,821.6 L707.1,821.4 L709.2,821.3 L711.2,821.1 L713.3,821.0 L715.3,820.9 L717.4,820.7 L719.4,820.6 L721.5,820.4 L723.5,820.3 L725.6,820.1 L727.6,820.0 L729.7,819.8 L731.7,819.7 L733.8,819.5 L735.8,819.4 L737.9,819.2 L739.9,819.1 L742.0,818.9 L744.0,818.8 L744.0,829.3 L742.0,829.4 L739.9,829.6 L737.9,829.7 L735.8,829.9 L733.8,830.0 L731.7,830.2 L729.7,830.3 L727.6,830.5 L725.6,830.6 L723.5,830.8 L721.5,830.9 L719.4,831.1 L717.4,831.2 L715.3,831.4 L713.3,831.5 L711.2,831.6 L709.2,831.8 L707.1,831.9 L705.1,832.1 L703.0,832.2 L701.0,832.3 z" fill="#02600a" stroke="#02600a" stroke-width="2" stroke-linejoin="round"/>
<path d="M772.0,816.6 L774.0,816.4 L776.1,816.3 L778.1,816.1 L780.2,815.9 L782.2,815.8 L784.3,815.6 L786.4,815.4 L788.4,815.3 L790.5,815.1 L792.5,814.9 L794.5,814.8 L796.6,814.6 L798.6,814.4 L800.7,814.2 L802.8,814.1 L804.8,813.9 L806.9,813.7 L808.9,813.5 L811.0,813.4 L813.0,813.2 L813.0,823.7 L811.0,823.9 L808.9,824.0 L806.9,824.2 L804.8,824.4 L802.8,824.6 L800.7,824.7 L798.6,824.9 L796.6,825.1 L794.5,825.3 L792.5,825.4 L790.5,825.6 L788.4,825.8 L786.4,825.9 L784.3,826.1 L782.2,826.3 L780.2,826.4 L778.1,826.6 L776.1,826.8 L774.0,826.9 L772.0,827.1 z" fill="#02600a" stroke="#02600a" stroke-width="2" stroke-linejoin="round"/>
<path d="M840.0,810.9 L842.0,810.7 L844.1,810.5 L846.1,810.3 L848.2,810.2 L850.2,810.0 L852.3,809.8 L854.3,809.6 L856.4,809.4 L858.4,809.3 L860.5,809.1 L862.5,808.9 L864.5,808.7 L866.6,808.5 L868.6,808.4 L870.7,808.2 L872.7,808.0 L874.8,807.8 L876.8,807.6 L878.9,807.5 L880.9,807.3 L883.0,807.1 L885.0,806.9 L885.0,817.4 L883.0,817.6 L880.9,817.8 L878.9,818.0 L876.8,818.1 L874.8,818.3 L872.7,818.5 L870.7,818.7 L868.6,818.9 L866.6,819.0 L864.5,819.2 L862.5,819.4 L860.5,819.6 L858.4,819.8 L856.4,819.9 L854.3,820.1 L852.3,820.3 L850.2,820.5 L848.2,820.7 L846.1,820.8 L844.1,821.0 L842.0,821.2 L840.0,821.4 z" fill="#02600a" stroke="#02600a" stroke-width="2" stroke-linejoin="round"/>
<path d="M909.0,804.8 L911.0,804.6 L913.0,804.4 L915.0,804.3 L917.0,804.1 L919.0,803.9 L921.0,803.7 L923.0,803.6 L925.0,803.4 L927.0,803.2 L929.0,803.0 L931.0,802.9 L933.0,802.7 L935.0,802.5 L937.0,802.3 L939.0,802.2 L941.0,802.0 L943.0,801.8 L945.0,801.6 L947.0,801.5 L949.0,801.3 L951.0,801.1 L951.0,811.6 L949.0,811.8 L947.0,812.0 L945.0,812.1 L943.0,812.3 L941.0,812.5 L939.0,812.7 L937.0,812.8 L935.0,813.0 L933.0,813.2 L931.0,813.4 L929.0,813.5 L927.0,813.7 L925.0,813.9 L923.0,814.1 L921.0,814.2 L919.0,814.4 L917.0,814.6 L915.0,814.8 L913.0,814.9 L911.0,815.1 L909.0,815.3 z" fill="#02600a" stroke="#02600a" stroke-width="2" stroke-linejoin="round"/>
<path d="M980.0,798.6 L982.0,798.5 L984.0,798.3 L986.0,798.1 L988.0,798.0 L990.0,797.8 L992.0,797.6 L994.0,797.5 L996.0,797.3 L998.0,797.1 L1000.0,797.0 L1002.0,796.8 L1004.0,796.6 L1006.0,796.5 L1008.0,796.3 L1010.0,796.1 L1012.0,796.0 L1014.0,795.8 L1016.0,795.6 L1018.0,795.5 L1020.0,795.3 L1020.0,805.8 L1018.0,806.0 L1016.0,806.1 L1014.0,806.3 L1012.0,806.5 L1010.0,806.6 L1008.0,806.8 L1006.0,807.0 L1004.0,807.1 L1002.0,807.3 L1000.0,807.5 L998.0,807.6 L996.0,807.8 L994.0,808.0 L992.0,808.1 L990.0,808.3 L988.0,808.5 L986.0,808.6 L984.0,808.8 L982.0,809.0 L980.0,809.1 z" fill="#02600a" stroke="#02600a" stroke-width="2" stroke-linejoin="round"/>
<path d="M1045.0,793.2 L1047.0,793.1 L1049.1,792.9 L1051.1,792.7 L1053.2,792.6 L1055.2,792.4 L1057.3,792.2 L1059.3,792.1 L1061.4,791.9 L1063.4,791.7 L1065.5,791.6 L1067.5,791.4 L1069.6,791.3 L1071.6,791.1 L1073.7,790.9 L1075.7,790.8 L1077.8,790.6 L1079.8,790.4 L1081.9,790.3 L1083.9,790.1 L1086.0,789.9 L1088.0,789.8 L1088.0,800.3 L1086.0,800.4 L1083.9,800.6 L1081.9,800.8 L1079.8,800.9 L1077.8,801.1 L1075.7,801.3 L1073.7,801.4 L1071.6,801.6 L1069.6,801.8 L1067.5,801.9 L1065.5,802.1 L1063.4,802.2 L1061.4,802.4 L1059.3,802.6 L1057.3,802.7 L1055.2,802.9 L1053.2,803.1 L1051.1,803.2 L1049.1,803.4 L1047.0,803.6 L1045.0,803.7 z" fill="#02600a" stroke="#02600a" stroke-width="2" stroke-linejoin="round"/>
<path d="M1114.0,787.7 L1116.0,787.5 L1118.1,787.4 L1120.1,787.2 L1122.2,787.1 L1124.2,786.9 L1126.3,786.7 L1128.3,786.6 L1130.4,786.4 L1132.4,786.2 L1134.5,786.1 L1136.5,785.9 L1138.6,785.8 L1140.6,785.6 L1142.7,785.4 L1144.7,785.3 L1146.8,785.1 L1148.8,785.0 L1150.9,784.8 L1152.9,784.6 L1155.0,784.5 L1157.0,784.3 L1157.0,794.8 L1155.0,795.0 L1152.9,795.1 L1150.9,795.3 L1148.8,795.5 L1146.8,795.6 L1144.7,795.8 L1142.7,795.9 L1140.6,796.1 L1138.6,796.3 L1136.5,796.4 L1134.5,796.6 L1132.4,796.7 L1130.4,796.9 L1128.3,797.1 L1126.3,797.2 L1124.2,797.4 L1122.2,797.6 L1120.1,797.7 L1118.1,797.9 L1116.0,798.0 L1114.0,798.2 z" fill="#02600a" stroke="#02600a" stroke-width="2" stroke-linejoin="round"/>
<path d="M1182.0,782.3 L1184.0,782.2 L1186.1,782.0 L1188.1,781.9 L1190.2,781.7 L1192.2,781.5 L1194.3,781.4 L1196.3,781.2 L1198.4,781.1 L1200.4,780.9 L1202.5,780.7 L1204.5,780.6 L1206.6,780.4 L1208.6,780.3 L1210.7,780.1 L1212.7,779.9 L1214.8,779.8 L1216.8,779.6 L1218.9,779.4 L1220.9,779.3 L1223.0,779.1 L1225.0,779.0 L1225.0,789.5 L1223.0,789.6 L1220.9,789.8 L1218.9,789.9 L1216.8,790.1 L1214.8,790.3 L1212.7,790.4 L1210.7,790.6 L1208.6,790.8 L1206.6,790.9 L1204.5,791.1 L1202.5,791.2 L1200.4,791.4 L1198.4,791.6 L1196.3,791.7 L1194.3,791.9 L1192.2,792.0 L1190.2,792.2 L1188.1,792.4 L1186.1,792.5 L1184.0,792.7 L1182.0,792.8 z" fill="#02600a" stroke="#02600a" stroke-width="2" stroke-linejoin="round"/>
<path d="M1251.0,776.9 L1253.0,776.7 L1255.1,776.6 L1257.1,776.4 L1259.2,776.3 L1261.2,776.1 L1263.3,775.9 L1265.3,775.8 L1267.4,775.6 L1269.4,775.5 L1271.5,775.3 L1273.5,775.1 L1275.5,775.0 L1277.6,774.8 L1279.6,774.6 L1281.7,774.5 L1283.7,774.3 L1285.8,774.1 L1287.8,774.0 L1289.9,773.8 L1291.9,773.7 L1294.0,773.5 L1296.0,773.3 L1296.0,783.8 L1294.0,784.0 L1291.9,784.2 L1289.9,784.3 L1287.8,784.5 L1285.8,784.6 L1283.7,784.8 L1281.7,785.0 L1279.6,785.1 L1277.6,785.3 L1275.5,785.5 L1273.5,785.6 L1271.5,785.8 L1269.4,786.0 L1267.4,786.1 L1265.3,786.3 L1263.3,786.4 L1261.2,786.6 L1259.2,786.8 L1257.1,786.9 L1255.1,787.1 L1253.0,787.2 L1251.0,787.4 z" fill="#02600a" stroke="#02600a" stroke-width="2" stroke-linejoin="round"/>
<path d="M1321.0,771.3 L1323.0,771.1 L1325.1,771.0 L1327.1,770.8 L1329.2,770.6 L1331.2,770.5 L1333.3,770.3 L1335.3,770.1 L1337.4,770.0 L1339.4,769.8 L1341.5,769.6 L1343.5,769.5 L1345.6,769.3 L1347.6,769.1 L1349.7,769.0 L1351.7,768.8 L1353.8,768.6 L1355.8,768.5 L1357.9,768.3 L1359.9,768.1 L1362.0,767.9 L1364.0,767.8 L1364.0,778.3 L1362.0,778.4 L1359.9,778.6 L1357.9,778.8 L1355.8,779.0 L1353.8,779.1 L1351.7,779.3 L1349.7,779.5 L1347.6,779.6 L1345.6,779.8 L1343.5,780.0 L1341.5,780.1 L1339.4,780.3 L1337.4,780.5 L1335.3,780.6 L1333.3,780.8 L1331.2,781.0 L1329.2,781.1 L1327.1,781.3 L1325.1,781.5 L1323.0,781.6 L1321.0,781.8 z" fill="#02600a" stroke="#02600a" stroke-width="2" stroke-linejoin="round"/>
<path d="M1390.0,765.6 L1392.0,765.4 L1394.0,765.3 L1396.0,765.1 L1398.0,764.9 L1400.0,764.8 L1402.0,764.6 L1404.0,764.4 L1406.0,764.2 L1408.0,764.1 L1410.0,763.9 L1412.0,763.7 L1414.0,763.6 L1416.0,763.4 L1418.0,763.2 L1420.0,763.1 L1422.0,762.9 L1424.0,762.7 L1426.0,762.5 L1428.0,762.4 L1430.0,762.2 L1432.0,762.0 L1432.0,772.5 L1430.0,772.7 L1428.0,772.9 L1426.0,773.0 L1424.0,773.2 L1422.0,773.4 L1420.0,773.6 L1418.0,773.7 L1416.0,773.9 L1414.0,774.1 L1412.0,774.2 L1410.0,774.4 L1408.0,774.6 L1406.0,774.7 L1404.0,774.9 L1402.0,775.1 L1400.0,775.3 L1398.0,775.4 L1396.0,775.6 L1394.0,775.8 L1392.0,775.9 L1390.0,776.1 z" fill="#02600a" stroke="#02600a" stroke-width="2" stroke-linejoin="round"/>
<path d="M1454.0,760.1 L1456.0,759.9 L1458.0,759.8 L1460.0,759.6 L1462.0,759.4 L1464.0,759.2 L1466.0,759.1 L1468.0,758.9 L1470.0,758.7 L1472.0,758.5 L1474.0,758.3 L1476.0,758.2 L1478.0,758.0 L1480.0,757.8 L1482.0,757.6 L1484.0,757.5 L1486.0,757.3 L1488.0,757.1 L1490.0,756.9 L1492.0,756.7 L1494.0,756.6 L1494.0,767.1 L1492.0,767.2 L1490.0,767.4 L1488.0,767.6 L1486.0,767.8 L1484.0,768.0 L1482.0,768.1 L1480.0,768.3 L1478.0,768.5 L1476.0,768.7 L1474.0,768.8 L1472.0,769.0 L1470.0,769.2 L1468.0,769.4 L1466.0,769.6 L1464.0,769.7 L1462.0,769.9 L1460.0,770.1 L1458.0,770.3 L1456.0,770.4 L1454.0,770.6 z" fill="#02600a" stroke="#02600a" stroke-width="2" stroke-linejoin="round"/>
<path d="M1520.0,754.2 L1522.0,754.0 L1524.0,753.9 L1526.0,753.7 L1528.0,753.5 L1530.0,753.3 L1532.0,753.1 L1534.0,752.9 L1536.0,752.8 L1538.0,752.6 L1540.0,752.4 L1542.0,752.2 L1544.0,752.0 L1546.0,751.8 L1548.0,751.7 L1550.0,751.5 L1552.0,751.3 L1554.0,751.1 L1556.0,750.9 L1558.0,750.7 L1560.0,750.5 L1560.0,761.0 L1558.0,761.2 L1556.0,761.4 L1554.0,761.6 L1552.0,761.8 L1550.0,762.0 L1548.0,762.2 L1546.0,762.3 L1544.0,762.5 L1542.0,762.7 L1540.0,762.9 L1538.0,763.1 L1536.0,763.3 L1534.0,763.4 L1532.0,763.6 L1530.0,763.8 L1528.0,764.0 L1526.0,764.2 L1524.0,764.4 L1522.0,764.5 L1520.0,764.7 z" fill="#02600a" stroke="#02600a" stroke-width="2" stroke-linejoin="round"/>
<path d="M1584.0,748.3 L1586.1,748.1 L1588.1,747.9 L1590.2,747.7 L1592.2,747.5 L1594.3,747.3 L1596.3,747.1 L1598.4,746.9 L1600.4,746.7 L1602.5,746.5 L1604.6,746.3 L1606.6,746.1 L1608.7,745.9 L1610.7,745.7 L1612.8,745.5 L1614.8,745.3 L1616.9,745.1 L1618.9,744.9 L1621.0,744.7 L1621.0,755.2 L1618.9,755.4 L1616.9,755.6 L1614.8,755.8 L1612.8,756.0 L1610.7,756.2 L1608.7,756.4 L1606.6,756.6 L1604.6,756.8 L1602.5,757.0 L1600.4,757.2 L1598.4,757.4 L1596.3,757.6 L1594.3,757.8 L1592.2,758.0 L1590.2,758.2 L1588.1,758.4 L1586.1,758.6 L1584.0,758.8 z" fill="#02600a" stroke="#02600a" stroke-width="2" stroke-linejoin="round"/>
<path d="M1643.0,742.6 L1645.0,742.4 L1647.0,742.2 L1649.0,742.0 L1651.0,741.8 L1653.0,741.6 L1655.0,741.4 L1657.0,741.2 L1659.0,741.0 L1661.0,740.8 L1663.0,740.6 L1665.0,740.4 L1667.0,740.2 L1669.0,740.0 L1671.0,739.8 L1673.0,739.6 L1675.0,739.4 L1677.0,739.2 L1679.0,739.0 L1681.0,738.8 L1683.0,738.6 L1685.0,738.4 L1687.0,738.2 L1687.0,748.7 L1685.0,748.9 L1683.0,749.1 L1681.0,749.3 L1679.0,749.5 L1677.0,749.7 L1675.0,749.9 L1673.0,750.1 L1671.0,750.3 L1669.0,750.5 L1667.0,750.7 L1665.0,750.9 L1663.0,751.1 L1661.0,751.3 L1659.0,751.5 L1657.0,751.7 L1655.0,751.9 L1653.0,752.1 L1651.0,752.3 L1649.0,752.5 L1647.0,752.7 L1645.0,752.9 L1643.0,753.1 z" fill="#02600a" stroke="#02600a" stroke-width="2" stroke-linejoin="round"/>
<path d="M1711.0,735.8 L1713.1,735.6 L1715.1,735.3 L1717.2,735.1 L1719.2,734.9 L1721.3,734.7 L1723.3,734.5 L1725.4,734.3 L1727.4,734.1 L1729.5,733.9 L1731.6,733.6 L1733.6,733.4 L1735.7,733.2 L1737.7,733.0 L1739.8,732.8 L1741.8,732.6 L1743.9,732.4 L1745.9,732.1 L1748.0,731.9 L1748.0,742.4 L1745.9,742.6 L1743.9,742.9 L1741.8,743.1 L1739.8,743.3 L1737.7,743.5 L1735.7,743.7 L1733.6,743.9 L1731.6,744.1 L1729.5,744.4 L1727.4,744.6 L1725.4,744.8 L1723.3,745.0 L1721.3,745.2 L1719.2,745.4 L1717.2,745.6 L1715.1,745.8 L1713.1,746.1 L1711.0,746.3 z" fill="#02600a" stroke="#02600a" stroke-width="2" stroke-linejoin="round"/>
<path d="M1774.0,729.2 L1776.0,729.0 L1778.0,728.7 L1780.0,728.5 L1782.0,728.3 L1784.0,728.1 L1786.0,727.9 L1788.0,727.7 L1790.0,727.4 L1792.0,727.2 L1794.0,727.0 L1796.0,726.8 L1798.0,726.6 L1800.0,726.4 L1802.0,726.1 L1804.0,725.9 L1806.0,725.7 L1808.0,725.5 L1810.0,725.3 L1812.0,725.1 L1812.0,735.6 L1810.0,735.8 L1808.0,736.0 L1806.0,736.2 L1804.0,736.4 L1802.0,736.6 L1800.0,736.9 L1798.0,737.1 L1796.0,737.3 L1794.0,737.5 L1792.0,737.7 L1790.0,737.9 L1788.0,738.2 L1786.0,738.4 L1784.0,738.6 L1782.0,738.8 L1780.0,739.0 L1778.0,739.2 L1776.0,739.5 L1774.0,739.7 z" fill="#02600a" stroke="#02600a" stroke-width="2" stroke-linejoin="round"/>
<path d="M1841.0,721.8 L1843.1,721.6 L1845.1,721.4 L1847.2,721.1 L1849.2,720.9 L1851.3,720.7 L1853.4,720.5 L1855.4,720.2 L1857.5,720.0 L1859.5,719.8 L1861.6,719.5 L1863.6,719.3 L1865.7,719.1 L1867.8,718.8 L1869.8,718.6 L1871.9,718.4 L1873.9,718.1 L1876.0,717.9 L1876.0,728.4 L1873.9,728.6 L1871.9,728.9 L1869.8,729.1 L1867.8,729.3 L1865.7,729.6 L1863.6,729.8 L1861.6,730.0 L1859.5,730.3 L1857.5,730.5 L1855.4,730.7 L1853.4,731.0 L1851.3,731.2 L1849.2,731.4 L1847.2,731.6 L1845.1,731.9 L1843.1,732.1 L1841.0,732.3 z" fill="#02600a" stroke="#02600a" stroke-width="2" stroke-linejoin="round"/>
<path d="M1898.0,715.3 L1900.0,715.1 L1902.1,714.9 L1904.1,714.6 L1906.2,714.4 L1908.2,714.2 L1910.3,713.9 L1912.3,713.7 L1914.4,713.4 L1916.4,713.2 L1918.5,713.0 L1920.5,712.7 L1922.5,712.5 L1924.6,712.2 L1926.6,712.0 L1928.7,711.7 L1930.7,711.5 L1932.8,711.3 L1934.8,711.0 L1936.9,710.8 L1938.9,710.5 L1941.0,710.3 L1943.0,710.0 L1943.0,720.5 L1941.0,720.8 L1938.9,721.0 L1936.9,721.3 L1934.8,721.5 L1932.8,721.8 L1930.7,722.0 L1928.7,722.2 L1926.6,722.5 L1924.6,722.7 L1922.5,723.0 L1920.5,723.2 L1918.5,723.5 L1916.4,723.7 L1914.4,723.9 L1912.3,724.2 L1910.3,724.4 L1908.2,724.7 L1906.2,724.9 L1904.1,725.1 L1902.1,725.4 L1900.0,725.6 L1898.0,725.8 z" fill="#02600a" stroke="#02600a" stroke-width="2" stroke-linejoin="round"/>
<path d="M1963.0,707.6 L1965.0,707.4 L1967.0,707.1 L1969.0,706.9 L1971.0,706.7 L1973.0,706.4 L1975.0,706.2 L1977.0,705.9 L1979.0,705.7 L1981.0,705.4 L1983.0,705.2 L1985.0,704.9 L1987.0,704.7 L1989.0,704.5 L1991.0,704.2 L1993.0,704.0 L1995.0,703.7 L1997.0,703.5 L1999.0,703.2 L2001.0,703.0 L2003.0,702.7 L2003.0,713.2 L2001.0,713.5 L1999.0,713.7 L1997.0,714.0 L1995.0,714.2 L1993.0,714.5 L1991.0,714.7 L1989.0,715.0 L1987.0,715.2 L1985.0,715.4 L1983.0,715.7 L1981.0,715.9 L1979.0,716.2 L1977.0,716.4 L1975.0,716.7 L1973.0,716.9 L1971.0,717.2 L1969.0,717.4 L1967.0,717.6 L1965.0,717.9 L1963.0,718.1 z" fill="#02600a" stroke="#02600a" stroke-width="2" stroke-linejoin="round"/>
<path d="M2028.0,699.6 L2030.1,699.3 L2032.1,699.1 L2034.2,698.8 L2036.2,698.5 L2038.3,698.3 L2040.3,698.0 L2042.4,697.7 L2044.4,697.5 L2046.5,697.2 L2048.5,697.0 L2050.6,696.7 L2052.6,696.4 L2054.7,696.2 L2056.7,695.9 L2058.8,695.6 L2060.8,695.4 L2062.9,695.1 L2064.9,694.8 L2067.0,694.6 L2067.0,705.1 L2064.9,705.3 L2062.9,705.6 L2060.8,705.9 L2058.8,706.1 L2056.7,706.4 L2054.7,706.7 L2052.6,706.9 L2050.6,707.2 L2048.5,707.5 L2046.5,707.7 L2044.4,708.0 L2042.4,708.2 L2040.3,708.5 L2038.3,708.8 L2036.2,709.0 L2034.2,709.3 L2032.1,709.6 L2030.1,709.8 L2028.0,710.1 z" fill="#02600a" stroke="#02600a" stroke-width="2" stroke-linejoin="round"/>
<path d="M2093.0,691.2 L2095.1,690.9 L2097.2,690.6 L2099.3,690.3 L2101.4,690.0 L2103.6,689.8 L2105.7,689.5 L2107.8,689.2 L2109.9,688.9 L2112.0,688.6 L2112.0,699.1 L2109.9,699.4 L2107.8,699.7 L2105.7,700.0 L2103.6,700.3 L2101.4,700.5 L2099.3,700.8 L2097.2,701.1 L2095.1,701.4 L2093.0,701.7 z" fill="#02600a" stroke="#02600a" stroke-width="2" stroke-linejoin="round"/>
<rect x="1437.5" y="765.2" width="3" height="3" fill="#02600a"/>
<rect x="1445.5" y="764.5" width="3" height="3" fill="#02600a"/>
<rect x="1500.7" y="759.6" width="3" height="3" fill="#02600a"/>
<rect x="1510.3" y="758.7" width="3" height="3" fill="#02600a"/>
<rect x="1566.1" y="753.6" width="3" height="3" fill="#02600a"/>
<rect x="1574.9" y="752.7" width="3" height="3" fill="#02600a"/>
<rect x="1626.5" y="747.8" width="3" height="3" fill="#02600a"/>
<rect x="1634.5" y="747.0" width="3" height="3" fill="#02600a"/>
<rect x="1693.1" y="741.2" width="3" height="3" fill="#02600a"/>
<rect x="1701.9" y="740.3" width="3" height="3" fill="#02600a"/>
<rect x="1754.7" y="734.8" width="3" height="3" fill="#02600a"/>
<rect x="1764.3" y="733.8" width="3" height="3" fill="#02600a"/>
<rect x="1819.6" y="727.8" width="3" height="3" fill="#02600a"/>
<rect x="1830.4" y="726.6" width="3" height="3" fill="#02600a"/>
<rect x="1881.5" y="720.8" width="3" height="3" fill="#02600a"/>
<rect x="1889.5" y="719.9" width="3" height="3" fill="#02600a"/>
<rect x="1947.9" y="713.0" width="3" height="3" fill="#02600a"/>
<rect x="1955.1" y="712.2" width="3" height="3" fill="#02600a"/>
<rect x="2009.4" y="705.5" width="3" height="3" fill="#02600a"/>
<rect x="2018.6" y="704.3" width="3" height="3" fill="#02600a"/>
<rect x="2073.7" y="697.2" width="3" height="3" fill="#02600a"/>
<rect x="2083.3" y="696.0" width="3" height="3" fill="#02600a"/>
<path d="M531.0,676.7 L533.0,675.9 L535.0,675.1 L537.0,674.3 L539.0,673.5 L541.0,672.7 L543.0,671.9 L545.0,671.1 L547.0,670.3 L549.0,669.5 L551.0,668.7 L553.0,667.9 L555.0,667.1 L557.0,666.3 L559.0,665.5 L561.0,664.7 L563.0,663.8 L565.0,663.0 L567.0,662.2 L569.0,661.4 L571.0,660.6 L573.0,659.8 L575.1,659.0 L577.1,658.2 L579.1,657.4 L581.1,656.6 L583.1,655.8 L585.1,655.0 L587.1,654.2 L589.1,653.4 L591.1,652.5 L593.1,651.7 L595.1,650.9 L597.1,650.1 L599.1,649.3 L601.1,648.5 L603.1,647.7 L605.1,646.9 L607.1,646.1 L609.1,645.3 L611.1,644.5 L613.1,643.7 L615.1,642.9 L617.1,642.1 L619.1,641.3 L621.1,640.5 L623.1,639.6 L625.1,638.8 L627.1,638.0 L629.1,637.2 L631.1,636.4 L633.1,635.6 L635.1,634.8 L637.1,634.0 L639.1,633.2 L641.1,632.4 L643.1,631.6 L645.1,630.8 L647.1,630.0 L649.1,629.2 L651.1,628.4 L653.1,627.6 L655.1,626.8 L657.1,626.0 L659.2,625.2 L661.2,624.4 L663.2,623.7 L665.2,622.9 L667.2,622.1 L669.2,621.3 L671.2,620.5 L673.2,619.7 L675.2,618.9 L677.2,618.1 L679.2,617.3 L681.2,616.5 L683.2,615.8 L685.2,615.0 L687.2,614.2 L689.2,613.4 L691.2,612.6 L693.2,611.8 L695.2,611.1 L697.2,610.3 L699.2,609.5 L701.2,608.7 L703.2,608.0 L705.2,607.2 L707.2,606.4 L709.2,605.6 L711.2,604.9 L713.2,604.1 L715.2,603.3 L717.2,602.6 L719.2,601.8 L721.2,601.0 L723.2,600.3 L725.2,599.5 L727.2,598.7 L729.2,598.0 L731.2,597.2 L733.2,596.5 L735.2,595.7 L737.2,595.0 L739.2,594.2 L741.2,593.5 L743.3,592.7 L745.3,592.0 L747.3,591.2 L749.3,590.5 L751.3,589.7 L753.3,589.0 L755.3,588.2 L757.3,587.5 L759.3,586.8 L761.3,586.0 L763.3,585.3 L765.3,584.6 L767.3,583.8 L769.3,583.1 L771.3,582.4 L773.3,581.6 L775.3,580.9 L777.3,580.2 L779.3,579.5 L781.3,578.8 L783.3,578.0 L785.3,577.3 L787.3,576.6 L789.3,575.9 L791.3,575.2 L793.3,574.5 L795.3,573.8 L797.3,573.1 L799.3,572.4 L801.3,571.7 L803.3,571.0 L805.3,570.3 L807.3,569.6 L809.3,568.9 L811.3,568.2 L813.3,567.5 L815.3,566.9 L817.3,566.2 L819.3,565.5 L821.3,564.8 L823.3,564.1 L825.3,563.5 L827.3,562.8 L829.4,562.1 L831.4,561.5 L833.4,560.8 L835.4,560.1 L837.4,559.5 L839.4,558.8 L841.4,558.2 L843.4,557.5 L845.4,556.8 L847.4,556.2 L849.4,555.5 L851.4,554.9 L853.4,554.2 L855.4,553.6 L857.4,553.0 L859.4,552.3 L861.4,551.7 L863.4,551.0 L865.4,550.4 L867.4,549.8 L869.4,549.1 L871.4,548.5 L873.4,547.9 L875.4,547.2 L877.4,546.6 L879.4,546.0 L881.4,545.3 L883.4,544.7 L885.4,544.1 L887.4,543.5 L889.4,542.8 L891.4,542.2 L893.4,541.6 L895.4,541.0 L897.4,540.4 L899.4,539.7 L901.4,539.1 L903.4,538.5 L905.4,537.9 L907.4,537.3 L909.4,536.7 L911.4,536.0 L913.5,535.4 L915.5,534.8 L917.5,534.2 L919.5,533.6 L921.5,533.0 L923.5,532.4 L925.5,531.8 L927.5,531.1 L929.5,530.5 L931.5,529.9 L933.5,529.3 L935.5,528.7 L937.5,528.1 L939.5,527.5 L941.5,526.9 L943.5,526.3 L945.5,525.6 L947.5,525.0 L949.5,524.4 L951.5,523.8 L953.5,523.2 L955.5,522.6 L957.5,522.0 L959.5,521.4 L961.5,520.7 L963.5,520.1 L965.5,519.5 L967.5,518.9 L969.5,518.3 L971.5,517.7 L973.5,517.1 L975.5,516.4 L977.5,515.8 L979.5,515.2 L981.5,514.6 L983.5,514.0 L985.5,513.4 L987.5,512.8 L989.5,512.1 L991.5,511.5 L993.5,510.9 L995.5,510.3 L997.6,509.7 L999.6,509.1 L1001.6,508.4 L1003.6,507.8 L1005.6,507.2 L1007.6,506.6 L1009.6,506.0 L1011.6,505.4 L1013.6,504.7 L1015.6,504.1 L1017.6,503.5 L1019.6,502.9 L1021.6,502.3 L1023.6,501.7 L1025.6,501.1 L1027.6,500.4 L1029.6,499.8 L1031.6,499.2 L1033.6,498.6 L1035.6,498.0 L1037.6,497.4 L1039.6,496.7 L1041.6,496.1 L1043.6,495.5 L1045.6,494.9 L1047.6,494.3 L1049.6,493.7 L1051.6,493.1 L1053.6,492.4 L1055.6,491.8 L1057.6,491.2 L1059.6,490.6 L1061.6,490.0 L1063.6,489.4 L1065.6,488.8 L1067.6,488.2 L1069.6,487.6 L1071.6,486.9 L1073.6,486.3 L1075.6,485.7 L1077.6,485.1 L1079.6,484.5 L1081.7,483.9 L1083.7,483.3 L1085.7,482.7 L1087.7,482.1 L1089.7,481.5 L1091.7,480.9 L1093.7,480.3 L1095.7,479.7 L1097.7,479.1 L1099.7,478.5 L1101.7,477.9 L1103.7,477.3 L1105.7,476.7 L1107.7,476.1 L1109.7,475.5 L1111.7,474.9 L1113.7,474.3 L1115.7,473.7 L1117.7,473.1 L1119.7,472.5 L1121.7,471.9 L1123.7,471.3 L1125.7,470.7 L1127.7,470.1 L1129.7,469.5 L1131.7,468.9 L1133.7,468.3 L1135.7,467.7 L1137.7,467.1 L1139.7,466.6 L1141.7,466.0 L1143.7,465.4 L1145.7,464.8 L1147.7,464.2 L1149.7,463.6 L1151.7,463.1 L1153.7,462.5 L1155.7,461.9 L1157.7,461.3 L1159.7,460.7 L1161.7,460.2 L1163.7,459.6 L1165.7,459.0 L1167.8,458.4 L1169.8,457.9 L1171.8,457.3 L1173.8,456.7 L1175.8,456.1 L1177.8,455.6 L1179.8,455.0 L1181.8,454.4 L1183.8,453.9 L1185.8,453.3 L1187.8,452.8 L1189.8,452.2 L1191.8,451.6 L1193.8,451.1 L1195.8,450.5 L1197.8,450.0 L1199.8,449.4 L1201.8,448.8 L1203.8,448.3 L1205.8,447.7 L1207.8,447.2 L1209.8,446.6 L1211.8,446.1 L1213.8,445.6 L1215.8,445.0 L1217.8,444.5 L1219.8,443.9 L1221.8,443.4 L1223.8,442.9 L1225.8,442.3 L1227.8,441.8 L1229.8,441.3 L1231.8,440.7 L1233.8,440.2 L1235.8,439.7 L1237.8,439.2 L1239.8,438.6 L1241.8,438.1 L1243.8,437.6 L1245.8,437.1 L1247.8,436.6 L1249.8,436.1 L1251.9,435.6 L1253.9,435.1 L1255.9,434.6 L1257.9,434.1 L1259.9,433.6 L1261.9,433.1 L1263.9,432.6 L1265.9,432.2 L1267.9,431.7 L1269.9,431.2 L1271.9,430.7 L1273.9,430.3 L1275.9,429.8 L1277.9,429.3 L1279.9,428.9 L1281.9,428.4 L1283.9,428.0 L1285.9,427.5 L1287.9,427.1 L1289.9,426.6 L1291.9,426.2 L1293.9,425.8 L1295.9,425.3 L1297.9,424.9 L1299.9,424.5 L1301.9,424.1 L1303.9,423.7 L1305.9,423.2 L1307.9,422.8 L1309.9,422.4 L1311.9,422.0 L1313.9,421.7 L1315.9,421.3 L1317.9,420.9 L1319.9,420.5 L1321.9,420.1 L1323.9,419.8 L1325.9,419.4 L1327.9,419.0 L1329.9,418.7 L1331.9,418.3 L1333.9,418.0 L1336.0,417.6 L1338.0,417.3 L1340.0,417.0 L1342.0,416.7 L1344.0,416.3 L1346.0,416.0 L1348.0,415.7 L1350.0,415.4 L1352.0,415.1 L1354.0,414.8 L1356.0,414.5 L1358.0,414.2 L1360.0,413.9 L1362.0,413.6 L1364.0,413.4 L1366.0,413.1 L1368.0,412.8 L1370.0,412.5 L1372.0,412.3 L1374.0,412.0 L1376.0,411.8 L1378.0,411.5" fill="none" stroke="#1a1ae0" stroke-width="2.6"/>
<path d="M562.0,658.0 L564.0,657.2 L566.1,656.4 L568.1,655.5 L570.2,654.7 L572.2,653.9 L574.3,653.1 L576.4,652.2 L578.4,651.4 L580.5,650.6 L582.5,649.8 L584.5,648.9 L586.6,648.1 L588.6,647.3 L590.7,646.4 L592.8,645.6 L594.8,644.8 L596.9,644.0 L598.9,643.1 L601.0,642.3 L603.0,641.5 L603.0,654.0 L601.0,654.8 L598.9,655.6 L596.9,656.5 L594.8,657.3 L592.8,658.1 L590.7,658.9 L588.6,659.8 L586.6,660.6 L584.5,661.4 L582.5,662.3 L580.5,663.1 L578.4,663.9 L576.4,664.7 L574.3,665.6 L572.2,666.4 L570.2,667.2 L568.1,668.0 L566.1,668.9 L564.0,669.7 L562.0,670.5 z" fill="#0000dc" stroke="#0000dc" stroke-width="2" stroke-linejoin="round"/>
<path d="M627.0,631.8 L629.0,631.0 L631.0,630.2 L633.0,629.4 L635.0,628.6 L637.0,627.8 L639.0,627.0 L641.0,626.2 L643.0,625.4 L645.0,624.6 L647.0,623.8 L649.0,623.0 L651.0,622.2 L653.0,621.4 L655.0,620.6 L657.0,619.8 L659.0,619.1 L661.0,618.3 L663.0,617.5 L665.0,616.7 L667.0,615.9 L669.0,615.1 L671.0,614.3 L671.0,626.8 L669.0,627.6 L667.0,628.4 L665.0,629.2 L663.0,630.0 L661.0,630.8 L659.0,631.6 L657.0,632.3 L655.0,633.1 L653.0,633.9 L651.0,634.7 L649.0,635.5 L647.0,636.3 L645.0,637.1 L643.0,637.9 L641.0,638.7 L639.0,639.5 L637.0,640.3 L635.0,641.1 L633.0,641.9 L631.0,642.7 L629.0,643.5 L627.0,644.3 z" fill="#0000dc" stroke="#0000dc" stroke-width="2" stroke-linejoin="round"/>
<path d="M699.0,603.3 L701.0,602.5 L703.1,601.7 L705.1,601.0 L707.2,600.2 L709.2,599.4 L711.3,598.6 L713.4,597.8 L715.4,597.0 L717.5,596.2 L719.5,595.4 L721.5,594.7 L723.6,593.9 L725.6,593.1 L727.7,592.3 L729.8,591.5 L731.8,590.8 L733.9,590.0 L735.9,589.2 L738.0,588.4 L740.0,587.7 L740.0,600.2 L738.0,600.9 L735.9,601.7 L733.9,602.5 L731.8,603.3 L729.8,604.0 L727.7,604.8 L725.6,605.6 L723.6,606.4 L721.5,607.2 L719.5,607.9 L717.5,608.7 L715.4,609.5 L713.4,610.3 L711.3,611.1 L709.2,611.9 L707.2,612.7 L705.1,613.5 L703.1,614.2 L701.0,615.0 L699.0,615.8 z" fill="#0000dc" stroke="#0000dc" stroke-width="2" stroke-linejoin="round"/>
<path d="M765.0,578.4 L767.0,577.7 L769.1,576.9 L771.1,576.2 L773.2,575.4 L775.2,574.7 L777.3,574.0 L779.3,573.2 L781.4,572.5 L783.4,571.7 L785.5,571.0 L787.5,570.3 L789.6,569.6 L791.6,568.8 L793.7,568.1 L795.7,567.4 L797.8,566.7 L799.8,566.0 L801.9,565.2 L803.9,564.5 L806.0,563.8 L808.0,563.1 L808.0,575.6 L806.0,576.3 L803.9,577.0 L801.9,577.7 L799.8,578.5 L797.8,579.2 L795.7,579.9 L793.7,580.6 L791.6,581.3 L789.6,582.1 L787.5,582.8 L785.5,583.5 L783.4,584.2 L781.4,585.0 L779.3,585.7 L777.3,586.5 L775.2,587.2 L773.2,587.9 L771.1,588.7 L769.1,589.4 L767.0,590.2 L765.0,590.9 z" fill="#0000dc" stroke="#0000dc" stroke-width="2" stroke-linejoin="round"/>
<path d="M833.0,554.7 L835.0,554.0 L837.1,553.3 L839.1,552.6 L841.2,552.0 L843.2,551.3 L845.3,550.6 L847.3,550.0 L849.4,549.3 L851.4,548.6 L853.5,548.0 L855.5,547.3 L857.6,546.7 L859.6,546.0 L861.7,545.3 L863.7,544.7 L865.8,544.0 L867.8,543.4 L869.9,542.7 L871.9,542.1 L874.0,541.4 L876.0,540.8 L876.0,553.3 L874.0,553.9 L871.9,554.6 L869.9,555.2 L867.8,555.9 L865.8,556.5 L863.7,557.2 L861.7,557.8 L859.6,558.5 L857.6,559.2 L855.5,559.8 L853.5,560.5 L851.4,561.1 L849.4,561.8 L847.3,562.5 L845.3,563.1 L843.2,563.8 L841.2,564.5 L839.1,565.1 L837.1,565.8 L835.0,566.5 L833.0,567.2 z" fill="#0000dc" stroke="#0000dc" stroke-width="2" stroke-linejoin="round"/>
<path d="M902.0,532.7 L904.0,532.1 L906.1,531.4 L908.1,530.8 L910.2,530.2 L912.2,529.6 L914.3,528.9 L916.3,528.3 L918.4,527.7 L920.4,527.0 L922.5,526.4 L924.5,525.8 L926.6,525.2 L928.6,524.5 L930.7,523.9 L932.7,523.3 L934.8,522.7 L936.8,522.0 L938.9,521.4 L940.9,520.8 L943.0,520.2 L945.0,519.5 L945.0,532.0 L943.0,532.7 L940.9,533.3 L938.9,533.9 L936.8,534.5 L934.8,535.2 L932.7,535.8 L930.7,536.4 L928.6,537.0 L926.6,537.7 L924.5,538.3 L922.5,538.9 L920.4,539.5 L918.4,540.2 L916.3,540.8 L914.3,541.4 L912.2,542.1 L910.2,542.7 L908.1,543.3 L906.1,543.9 L904.0,544.6 L902.0,545.2 z" fill="#0000dc" stroke="#0000dc" stroke-width="2" stroke-linejoin="round"/>
<path d="M971.0,511.6 L973.1,511.0 L975.1,510.3 L977.2,509.7 L979.2,509.1 L981.3,508.4 L983.3,507.8 L985.4,507.2 L987.4,506.5 L989.5,505.9 L991.5,505.3 L993.6,504.6 L995.6,504.0 L997.7,503.4 L999.7,502.8 L1001.8,502.1 L1003.8,501.5 L1005.9,500.9 L1007.9,500.2 L1010.0,499.6 L1010.0,512.1 L1007.9,512.7 L1005.9,513.4 L1003.8,514.0 L1001.8,514.6 L999.7,515.3 L997.7,515.9 L995.6,516.5 L993.6,517.1 L991.5,517.8 L989.5,518.4 L987.4,519.0 L985.4,519.7 L983.3,520.3 L981.3,520.9 L979.2,521.6 L977.2,522.2 L975.1,522.8 L973.1,523.5 L971.0,524.1 z" fill="#0000dc" stroke="#0000dc" stroke-width="2" stroke-linejoin="round"/>
<path d="M1037.0,491.3 L1039.0,490.7 L1041.0,490.1 L1043.0,489.5 L1045.0,488.8 L1047.0,488.2 L1049.0,487.6 L1051.0,487.0 L1053.0,486.4 L1055.0,485.8 L1057.0,485.2 L1059.0,484.6 L1061.0,483.9 L1063.0,483.3 L1065.0,482.7 L1067.0,482.1 L1069.0,481.5 L1071.0,480.9 L1073.0,480.3 L1075.0,479.7 L1077.0,479.1 L1079.0,478.5 L1079.0,491.0 L1077.0,491.6 L1075.0,492.2 L1073.0,492.8 L1071.0,493.4 L1069.0,494.0 L1067.0,494.6 L1065.0,495.2 L1063.0,495.8 L1061.0,496.4 L1059.0,497.1 L1057.0,497.7 L1055.0,498.3 L1053.0,498.9 L1051.0,499.5 L1049.0,500.1 L1047.0,500.7 L1045.0,501.3 L1043.0,502.0 L1041.0,502.6 L1039.0,503.2 L1037.0,503.8 z" fill="#0000dc" stroke="#0000dc" stroke-width="2" stroke-linejoin="round"/>
<path d="M1108.0,469.7 L1110.0,469.1 L1112.0,468.5 L1114.0,467.9 L1116.0,467.3 L1118.0,466.7 L1120.0,466.1 L1122.0,465.5 L1124.0,464.9 L1126.0,464.4 L1128.0,463.8 L1130.0,463.2 L1132.0,462.6 L1134.0,462.0 L1136.0,461.4 L1138.0,460.8 L1140.0,460.2 L1142.0,459.6 L1144.0,459.1 L1146.0,458.5 L1148.0,457.9 L1150.0,457.3 L1150.0,469.8 L1148.0,470.4 L1146.0,471.0 L1144.0,471.6 L1142.0,472.1 L1140.0,472.7 L1138.0,473.3 L1136.0,473.9 L1134.0,474.5 L1132.0,475.1 L1130.0,475.7 L1128.0,476.3 L1126.0,476.9 L1124.0,477.4 L1122.0,478.0 L1120.0,478.6 L1118.0,479.2 L1116.0,479.8 L1114.0,480.4 L1112.0,481.0 L1110.0,481.6 L1108.0,482.2 z" fill="#0000dc" stroke="#0000dc" stroke-width="2" stroke-linejoin="round"/>
<path d="M1174.0,450.4 L1176.0,449.8 L1178.0,449.3 L1180.0,448.7 L1182.0,448.1 L1184.0,447.6 L1186.0,447.0 L1188.0,446.4 L1190.0,445.9 L1192.0,445.3 L1194.0,444.8 L1196.0,444.2 L1198.0,443.6 L1200.0,443.1 L1202.0,442.5 L1204.0,442.0 L1206.0,441.4 L1208.0,440.9 L1210.0,440.3 L1212.0,439.8 L1214.0,439.2 L1216.0,438.7 L1216.0,451.2 L1214.0,451.7 L1212.0,452.3 L1210.0,452.8 L1208.0,453.4 L1206.0,453.9 L1204.0,454.5 L1202.0,455.0 L1200.0,455.6 L1198.0,456.1 L1196.0,456.7 L1194.0,457.3 L1192.0,457.8 L1190.0,458.4 L1188.0,458.9 L1186.0,459.5 L1184.0,460.1 L1182.0,460.6 L1180.0,461.2 L1178.0,461.8 L1176.0,462.3 L1174.0,462.9 z" fill="#0000dc" stroke="#0000dc" stroke-width="2" stroke-linejoin="round"/>
<path d="M1241.0,432.1 L1243.0,431.6 L1245.1,431.0 L1247.1,430.5 L1249.2,430.0 L1251.2,429.5 L1253.3,429.0 L1255.3,428.5 L1257.4,428.0 L1259.4,427.5 L1261.5,427.0 L1263.5,426.5 L1265.5,426.0 L1267.6,425.5 L1269.6,425.0 L1271.7,424.5 L1273.7,424.0 L1275.8,423.6 L1277.8,423.1 L1279.9,422.6 L1281.9,422.2 L1284.0,421.7 L1286.0,421.2 L1286.0,433.7 L1284.0,434.2 L1281.9,434.7 L1279.9,435.1 L1277.8,435.6 L1275.8,436.1 L1273.7,436.5 L1271.7,437.0 L1269.6,437.5 L1267.6,438.0 L1265.5,438.5 L1263.5,439.0 L1261.5,439.5 L1259.4,440.0 L1257.4,440.5 L1255.3,441.0 L1253.3,441.5 L1251.2,442.0 L1249.2,442.5 L1247.1,443.0 L1245.1,443.5 L1243.0,444.1 L1241.0,444.6 z" fill="#0000dc" stroke="#0000dc" stroke-width="2" stroke-linejoin="round"/>
<path d="M1310.0,416.2 L1312.0,415.8 L1314.0,415.4 L1316.0,415.0 L1318.0,414.6 L1320.0,414.2 L1322.0,413.9 L1324.0,413.5 L1326.0,413.1 L1328.0,412.8 L1330.0,412.4 L1332.0,412.1 L1334.0,411.7 L1336.0,411.4 L1338.0,411.1 L1340.0,410.7 L1342.0,410.4 L1344.0,410.1 L1346.0,409.8 L1348.0,409.4 L1350.0,409.1 L1352.0,408.8 L1352.0,421.3 L1350.0,421.6 L1348.0,421.9 L1346.0,422.3 L1344.0,422.6 L1342.0,422.9 L1340.0,423.2 L1338.0,423.6 L1336.0,423.9 L1334.0,424.2 L1332.0,424.6 L1330.0,424.9 L1328.0,425.3 L1326.0,425.6 L1324.0,426.0 L1322.0,426.4 L1320.0,426.7 L1318.0,427.1 L1316.0,427.5 L1314.0,427.9 L1312.0,428.3 L1310.0,428.7 z" fill="#0000dc" stroke="#0000dc" stroke-width="2" stroke-linejoin="round"/>
<path d="M1379.0,406.6 L1381.0,406.4 L1383.0,406.1 L1385.0,405.9 L1387.0,405.7 L1389.0,405.4 L1391.0,405.2 L1393.0,405.0 L1395.0,404.7 L1397.0,404.5 L1399.0,404.3 L1401.0,404.1 L1403.0,403.9 L1405.0,403.7 L1407.0,403.4 L1409.0,403.2 L1411.0,403.0 L1413.0,402.8 L1415.0,402.6 L1417.0,402.4 L1419.0,402.2 L1421.0,402.1 L1423.0,401.9 L1423.0,411.4 L1421.0,411.6 L1419.0,411.7 L1417.0,411.9 L1415.0,412.1 L1413.0,412.3 L1411.0,412.5 L1409.0,412.7 L1407.0,412.9 L1405.0,413.2 L1403.0,413.4 L1401.0,413.6 L1399.0,413.8 L1397.0,414.0 L1395.0,414.2 L1393.0,414.5 L1391.0,414.7 L1389.0,414.9 L1387.0,415.2 L1385.0,415.4 L1383.0,415.6 L1381.0,415.9 L1379.0,416.1 z" fill="#0000dc" stroke="#0000dc" stroke-width="2" stroke-linejoin="round"/>
<path d="M1447.0,399.8 L1449.0,399.6 L1451.0,399.4 L1453.0,399.3 L1455.0,399.1 L1457.0,399.0 L1459.0,398.8 L1461.0,398.7 L1463.0,398.5 L1465.0,398.4 L1467.0,398.2 L1469.0,398.1 L1471.0,397.9 L1473.0,397.8 L1475.0,397.6 L1477.0,397.5 L1479.0,397.4 L1481.0,397.2 L1483.0,397.1 L1485.0,397.0 L1485.0,406.5 L1483.0,406.6 L1481.0,406.7 L1479.0,406.9 L1477.0,407.0 L1475.0,407.1 L1473.0,407.3 L1471.0,407.4 L1469.0,407.6 L1467.0,407.7 L1465.0,407.9 L1463.0,408.0 L1461.0,408.2 L1459.0,408.3 L1457.0,408.5 L1455.0,408.6 L1453.0,408.8 L1451.0,408.9 L1449.0,409.1 L1447.0,409.3 z" fill="#0000dc" stroke="#0000dc" stroke-width="2" stroke-linejoin="round"/>
<path d="M1513.0,395.4 L1515.0,395.3 L1517.0,395.2 L1519.0,395.1 L1521.0,395.0 L1523.0,394.9 L1525.0,394.8 L1527.0,394.7 L1529.0,394.6 L1531.0,394.5 L1533.0,394.4 L1535.0,394.3 L1537.0,394.2 L1539.0,394.1 L1541.0,394.1 L1543.0,394.0 L1545.0,393.9 L1547.0,393.8 L1549.0,393.7 L1551.0,393.7 L1551.0,403.2 L1549.0,403.2 L1547.0,403.3 L1545.0,403.4 L1543.0,403.5 L1541.0,403.6 L1539.0,403.6 L1537.0,403.7 L1535.0,403.8 L1533.0,403.9 L1531.0,404.0 L1529.0,404.1 L1527.0,404.2 L1525.0,404.3 L1523.0,404.4 L1521.0,404.5 L1519.0,404.6 L1517.0,404.7 L1515.0,404.8 L1513.0,404.9 z" fill="#0000dc" stroke="#0000dc" stroke-width="2" stroke-linejoin="round"/>
<path d="M1579.0,392.8 L1581.0,392.7 L1583.0,392.6 L1585.0,392.6 L1587.0,392.5 L1589.0,392.5 L1591.0,392.4 L1593.0,392.4 L1595.0,392.4 L1597.0,392.3 L1599.0,392.3 L1601.0,392.2 L1603.0,392.2 L1605.0,392.1 L1607.0,392.1 L1609.0,392.1 L1611.0,392.0 L1613.0,392.0 L1615.0,392.0 L1617.0,391.9 L1617.0,401.4 L1615.0,401.5 L1613.0,401.5 L1611.0,401.5 L1609.0,401.6 L1607.0,401.6 L1605.0,401.6 L1603.0,401.7 L1601.0,401.7 L1599.0,401.8 L1597.0,401.8 L1595.0,401.9 L1593.0,401.9 L1591.0,401.9 L1589.0,402.0 L1587.0,402.0 L1585.0,402.1 L1583.0,402.1 L1581.0,402.2 L1579.0,402.3 z" fill="#0000dc" stroke="#0000dc" stroke-width="2" stroke-linejoin="round"/>
<path d="M1643.0,391.6 L1645.0,391.6 L1647.0,391.6 L1649.0,391.6 L1651.0,391.5 L1653.0,391.5 L1655.0,391.5 L1657.0,391.5 L1659.0,391.5 L1661.0,391.5 L1663.0,391.5 L1665.0,391.5 L1667.0,391.5 L1669.0,391.4 L1671.0,391.4 L1673.0,391.4 L1675.0,391.4 L1677.0,391.4 L1679.0,391.4 L1681.0,391.4 L1683.0,391.4 L1685.0,391.4 L1687.0,391.4 L1687.0,400.9 L1685.0,400.9 L1683.0,400.9 L1681.0,400.9 L1679.0,400.9 L1677.0,400.9 L1675.0,400.9 L1673.0,400.9 L1671.0,400.9 L1669.0,400.9 L1667.0,401.0 L1665.0,401.0 L1663.0,401.0 L1661.0,401.0 L1659.0,401.0 L1657.0,401.0 L1655.0,401.0 L1653.0,401.0 L1651.0,401.0 L1649.0,401.1 L1647.0,401.1 L1645.0,401.1 L1643.0,401.1 z" fill="#0000dc" stroke="#0000dc" stroke-width="2" stroke-linejoin="round"/>
<path d="M1712.0,391.4 L1714.0,391.4 L1716.1,391.4 L1718.2,391.4 L1720.2,391.4 L1722.2,391.4 L1724.3,391.4 L1726.3,391.4 L1728.4,391.4 L1730.5,391.4 L1732.5,391.4 L1734.5,391.4 L1736.6,391.4 L1738.7,391.4 L1740.7,391.4 L1742.8,391.4 L1744.8,391.4 L1746.8,391.4 L1748.9,391.4 L1751.0,391.4 L1753.0,391.3 L1753.0,400.8 L1751.0,400.9 L1748.9,400.9 L1746.8,400.9 L1744.8,400.9 L1742.8,400.9 L1740.7,400.9 L1738.7,400.9 L1736.6,400.9 L1734.5,400.9 L1732.5,400.9 L1730.5,400.9 L1728.4,400.9 L1726.3,400.9 L1724.3,400.9 L1722.2,400.9 L1720.2,400.9 L1718.2,400.9 L1716.1,400.9 L1714.0,400.9 L1712.0,400.9 z" fill="#0000dc" stroke="#0000dc" stroke-width="2" stroke-linejoin="round"/>
<path d="M1781.0,391.1 L1783.1,391.1 L1785.1,391.0 L1787.2,391.0 L1789.2,391.0 L1791.3,390.9 L1793.3,390.9 L1795.4,390.8 L1797.4,390.8 L1799.5,390.8 L1801.5,390.7 L1803.6,390.7 L1805.6,390.6 L1807.7,390.6 L1809.7,390.5 L1811.8,390.4 L1813.8,390.4 L1815.9,390.3 L1817.9,390.2 L1820.0,390.2 L1820.0,399.7 L1817.9,399.7 L1815.9,399.8 L1813.8,399.9 L1811.8,399.9 L1809.7,400.0 L1807.7,400.1 L1805.6,400.1 L1803.6,400.2 L1801.5,400.2 L1799.5,400.3 L1797.4,400.3 L1795.4,400.3 L1793.3,400.4 L1791.3,400.4 L1789.2,400.5 L1787.2,400.5 L1785.1,400.5 L1783.1,400.6 L1781.0,400.6 z" fill="#0000dc" stroke="#0000dc" stroke-width="2" stroke-linejoin="round"/>
<path d="M1847.0,389.0 L1849.0,388.9 L1851.0,388.8 L1853.0,388.7 L1855.0,388.6 L1857.0,388.5 L1859.0,388.3 L1861.0,388.2 L1863.0,388.1 L1865.0,388.0 L1867.0,387.8 L1869.0,387.7 L1871.0,387.5 L1873.0,387.4 L1875.0,387.2 L1877.0,387.1 L1879.0,386.9 L1881.0,386.8 L1883.0,386.6 L1885.0,386.4 L1887.0,386.3 L1887.0,395.8 L1885.0,395.9 L1883.0,396.1 L1881.0,396.3 L1879.0,396.4 L1877.0,396.6 L1875.0,396.7 L1873.0,396.9 L1871.0,397.0 L1869.0,397.2 L1867.0,397.3 L1865.0,397.5 L1863.0,397.6 L1861.0,397.7 L1859.0,397.8 L1857.0,398.0 L1855.0,398.1 L1853.0,398.2 L1851.0,398.3 L1849.0,398.4 L1847.0,398.5 z" fill="#0000dc" stroke="#0000dc" stroke-width="2" stroke-linejoin="round"/>
<path d="M1914.0,383.5 L1916.1,383.3 L1918.1,383.0 L1920.2,382.8 L1922.2,382.5 L1924.3,382.3 L1926.4,382.0 L1928.4,381.7 L1930.5,381.4 L1932.5,381.2 L1934.6,380.9 L1936.6,380.6 L1938.7,380.3 L1940.8,380.0 L1942.8,379.7 L1944.9,379.3 L1946.9,379.0 L1949.0,378.7 L1949.0,388.2 L1946.9,388.5 L1944.9,388.8 L1942.8,389.2 L1940.8,389.5 L1938.7,389.8 L1936.6,390.1 L1934.6,390.4 L1932.5,390.7 L1930.5,390.9 L1928.4,391.2 L1926.4,391.5 L1924.3,391.8 L1922.2,392.0 L1920.2,392.3 L1918.1,392.5 L1916.1,392.8 L1914.0,393.0 z" fill="#0000dc" stroke="#0000dc" stroke-width="2" stroke-linejoin="round"/>
<path d="M1969.0,375.3 L1971.0,375.0 L1973.1,374.6 L1975.2,374.2 L1977.2,373.9 L1979.2,373.5 L1981.3,373.1 L1983.3,372.7 L1985.4,372.3 L1987.5,371.9 L1989.5,371.5 L1991.5,371.1 L1993.6,370.7 L1995.7,370.3 L1997.7,369.9 L1999.8,369.5 L2001.8,369.1 L2003.8,368.7 L2005.9,368.2 L2008.0,367.8 L2010.0,367.4 L2010.0,376.9 L2008.0,377.3 L2005.9,377.7 L2003.8,378.2 L2001.8,378.6 L1999.8,379.0 L1997.7,379.4 L1995.7,379.8 L1993.6,380.2 L1991.5,380.6 L1989.5,381.0 L1987.5,381.4 L1985.4,381.8 L1983.3,382.2 L1981.3,382.6 L1979.2,383.0 L1977.2,383.4 L1975.2,383.7 L1973.1,384.1 L1971.0,384.5 L1969.0,384.8 z" fill="#0000dc" stroke="#0000dc" stroke-width="2" stroke-linejoin="round"/>
<path d="M2034.0,362.3 L2036.0,361.8 L2038.0,361.4 L2040.0,361.0 L2042.0,360.5 L2044.0,360.1 L2046.0,359.6 L2048.0,359.2 L2050.0,358.8 L2052.0,358.3 L2054.0,357.9 L2056.0,357.4 L2058.0,357.0 L2060.0,356.5 L2062.0,356.1 L2064.0,355.6 L2066.0,355.2 L2068.0,354.7 L2070.0,354.3 L2070.0,363.8 L2068.0,364.2 L2066.0,364.7 L2064.0,365.1 L2062.0,365.6 L2060.0,366.0 L2058.0,366.5 L2056.0,366.9 L2054.0,367.4 L2052.0,367.8 L2050.0,368.3 L2048.0,368.7 L2046.0,369.1 L2044.0,369.6 L2042.0,370.0 L2040.0,370.5 L2038.0,370.9 L2036.0,371.3 L2034.0,371.8 z" fill="#0000dc" stroke="#0000dc" stroke-width="2" stroke-linejoin="round"/>
<path d="M2093.0,349.2 L2095.1,348.7 L2097.2,348.2 L2099.3,347.8 L2101.4,347.3 L2103.6,346.8 L2105.7,346.4 L2107.8,345.9 L2109.9,345.5 L2112.0,345.0 L2112.0,354.5 L2109.9,355.0 L2107.8,355.4 L2105.7,355.9 L2103.6,356.3 L2101.4,356.8 L2099.3,357.3 L2097.2,357.7 L2095.1,358.2 L2093.0,358.7 z" fill="#0000dc" stroke="#0000dc" stroke-width="2" stroke-linejoin="round"/>
<rect x="1429.1" y="404.4" width="3" height="3" fill="#0000dc"/>
<rect x="1437.9" y="403.6" width="3" height="3" fill="#0000dc"/>
<rect x="1492.3" y="399.7" width="3" height="3" fill="#0000dc"/>
<rect x="1502.7" y="399.1" width="3" height="3" fill="#0000dc"/>
<rect x="1558.3" y="396.6" width="3" height="3" fill="#0000dc"/>
<rect x="1568.7" y="396.3" width="3" height="3" fill="#0000dc"/>
<rect x="1623.7" y="395.1" width="3" height="3" fill="#0000dc"/>
<rect x="1633.3" y="394.9" width="3" height="3" fill="#0000dc"/>
<rect x="1693.4" y="394.7" width="3" height="3" fill="#0000dc"/>
<rect x="1702.6" y="394.7" width="3" height="3" fill="#0000dc"/>
<rect x="1760.3" y="394.5" width="3" height="3" fill="#0000dc"/>
<rect x="1770.7" y="394.4" width="3" height="3" fill="#0000dc"/>
<rect x="1827.0" y="393.1" width="3" height="3" fill="#0000dc"/>
<rect x="1837.0" y="392.7" width="3" height="3" fill="#0000dc"/>
<rect x="1894.0" y="388.7" width="3" height="3" fill="#0000dc"/>
<rect x="1904.0" y="387.7" width="3" height="3" fill="#0000dc"/>
<rect x="1953.9" y="380.9" width="3" height="3" fill="#0000dc"/>
<rect x="1961.1" y="379.7" width="3" height="3" fill="#0000dc"/>
<rect x="2016.1" y="369.1" width="3" height="3" fill="#0000dc"/>
<rect x="2024.9" y="367.2" width="3" height="3" fill="#0000dc"/>
<rect x="2075.8" y="355.9" width="3" height="3" fill="#0000dc"/>
<rect x="2084.2" y="354.0" width="3" height="3" fill="#0000dc"/></g>
<g transform="matrix(1.03960,0,0,1.03846,129.61,1176.00)"><text x="0" y="0" font-family="'Liberation Serif', 'Times New Roman', serif" font-weight="bold" font-size="60" fill="#000">0.0</text></g>
<g transform="matrix(1.03960,0,0,1.03846,98.42,954.60)"><text x="0" y="0" font-family="'Liberation Serif', 'Times New Roman', serif" font-weight="bold" font-size="60" fill="#000">10.0</text></g>
<g transform="matrix(1.03960,0,0,1.03846,98.42,733.20)"><text x="0" y="0" font-family="'Liberation Serif', 'Times New Roman', serif" font-weight="bold" font-size="60" fill="#000">20.0</text></g>
<g transform="matrix(1.03960,0,0,1.03846,98.42,511.80)"><text x="0" y="0" font-family="'Liberation Serif', 'Times New Roman', serif" font-weight="bold" font-size="60" fill="#000">30.0</text></g>
<g transform="matrix(1.03960,0,0,1.03846,98.42,290.40)"><text x="0" y="0" font-family="'Liberation Serif', 'Times New Roman', serif" font-weight="bold" font-size="60" fill="#000">40.0</text></g>
<g transform="matrix(1.03960,0,0,1.03846,98.42,69.00)"><text x="0" y="0" font-family="'Liberation Serif', 'Times New Roman', serif" font-weight="bold" font-size="60" fill="#000">50.0</text></g>
<g transform="matrix(0.98837,0,0,1.04286,241.66,1226.60)"><text x="0" y="0" text-anchor="middle" font-family="'Liberation Sans', Arial, sans-serif" font-weight="bold" font-size="61" fill="#000">0</text></g>
<g transform="matrix(0.98837,0,0,1.04286,475.16,1226.60)"><text x="0" y="0" text-anchor="middle" font-family="'Liberation Sans', Arial, sans-serif" font-weight="bold" font-size="61" fill="#000">200</text></g>
<g transform="matrix(0.98837,0,0,1.04286,708.66,1226.60)"><text x="0" y="0" text-anchor="middle" font-family="'Liberation Sans', Arial, sans-serif" font-weight="bold" font-size="61" fill="#000">400</text></g>
<g transform="matrix(0.98837,0,0,1.04286,942.16,1226.60)"><text x="0" y="0" text-anchor="middle" font-family="'Liberation Sans', Arial, sans-serif" font-weight="bold" font-size="61" fill="#000">600</text></g>
<g transform="matrix(0.98837,0,0,1.04286,1175.66,1226.60)"><text x="0" y="0" text-anchor="middle" font-family="'Liberation Sans', Arial, sans-serif" font-weight="bold" font-size="61" fill="#000">800</text></g>
<g transform="matrix(0.98837,0,0,1.04286,1409.16,1226.60)"><text x="0" y="0" text-anchor="middle" font-family="'Liberation Sans', Arial, sans-serif" font-weight="bold" font-size="61" fill="#000">1000</text></g>
<g transform="matrix(0.98837,0,0,1.04286,1642.66,1226.60)"><text x="0" y="0" text-anchor="middle" font-family="'Liberation Sans', Arial, sans-serif" font-weight="bold" font-size="61" fill="#000">1200</text></g>
<g transform="matrix(0.98837,0,0,1.04286,1876.16,1226.60)"><text x="0" y="0" text-anchor="middle" font-family="'Liberation Sans', Arial, sans-serif" font-weight="bold" font-size="61" fill="#000">1400</text></g>
<g transform="matrix(0.98837,0,0,1.04286,2109.66,1226.60)"><text x="0" y="0" text-anchor="middle" font-family="'Liberation Sans', Arial, sans-serif" font-weight="bold" font-size="61" fill="#000">1600</text></g>
<g transform="matrix(0.99335,0,0,0.97170,1109.51,1294.37)"><text x="0" y="0" font-family="'Liberation Serif', 'Times New Roman', serif" font-weight="bold" font-size="61" fill="#000">Frequency, Hz</text></g>
<g transform="rotate(-90) matrix(1.00889,0,0,0.98113,-981.01,68.23)"><text x="0" y="0" font-family="'Liberation Serif', 'Times New Roman', serif" font-weight="bold" font-size="60" fill="#000">Transmission Loss, TL<tspan font-size="41" dy="12">n</tspan><tspan dy="-12"> (dB)</tspan></text></g>
<g transform="matrix(0.98256,0,0,1.02000,531.03,90.50)"><text x="0" y="0" font-family="'Liberation Serif', 'Times New Roman', serif" font-weight="bold" font-size="36" fill="#000">Graded Material</text></g>
<g transform="matrix(1.00833,0,0,1.08077,592.39,201.40)"><text x="0" y="0" font-family="'Liberation Serif', 'Times New Roman', serif" font-weight="bold" font-size="40" fill="#000">L</text></g>
<g transform="matrix(0.96944,0,0,1.04231,663.63,201.80)"><text x="0" y="0" font-family="'Liberation Serif', 'Times New Roman', serif" font-weight="bold" font-size="40" fill="#000">M</text></g>
<g transform="matrix(1.18889,0,0,1.09615,737.62,203.20)"><text x="0" y="0" font-family="'Liberation Serif', 'Times New Roman', serif" font-weight="bold" font-size="40" fill="#000">S</text></g>
<g transform="matrix(0.96452,0,0,0.93939,825.57,200.98)"><text x="0" y="0" font-family="'Liberation Serif', 'Times New Roman', serif" font-weight="bold" font-size="36" fill="#000">Open End</text></g>
<g transform="matrix(0.96905,0,0,0.98000,296.56,297.50)"><text x="0" y="0" font-family="'Liberation Serif', 'Times New Roman', serif" font-weight="bold" font-size="36" fill="#000">Sound Source</text></g>
<g transform="matrix(0.95146,0,0,1.02083,631.05,320.50)"><text x="0" y="0" font-family="'Liberation Serif', 'Times New Roman', serif" font-weight="bold" font-size="36" fill="#000">50 mm</text></g>
<g transform="matrix(0.94258,0,0,0.96667,984.56,78.00)"><text x="0" y="0" font-family="'Liberation Serif', 'Times New Roman', serif" font-weight="bold" font-size="34" fill="#000">Pore-size distribution</text></g>
<g transform="matrix(1.03056,0,0,1.15789,1013.77,273.80)"><text x="0" y="0" font-family="'Liberation Serif', 'Times New Roman', serif" font-weight="bold" font-size="30" fill="#000">Front</text></g>
<g transform="matrix(1.06094,0,0,1.01429,1385.54,274.30)"><text x="0" y="0" font-family="'Liberation Serif', 'Times New Roman', serif" font-weight="bold" font-size="30" fill="#000">Back</text></g>
<g transform="matrix(1.20000,0,0,1.24737,1086.80,349.70)"><text x="0" y="0" font-family="'Liberation Serif', 'Times New Roman', serif" font-weight="bold" font-size="30" fill="#000">0</text></g>
<g transform="matrix(1.23333,0,0,1.03529,1221.97,350.70)"><text x="0" y="0" font-family="'Liberation Serif', 'Times New Roman', serif" font-weight="bold" font-size="30" fill="#000">t</text></g>
<g transform="matrix(1.15000,0,0,1.18182,1236.15,358.20)"><text x="0" y="0" font-family="'Liberation Serif', 'Times New Roman', serif" font-weight="bold" font-size="24" fill="#000">o</text></g>
<g transform="matrix(1.87500,0,0,1.58947,1252.40,355.20)"><text x="0" y="0" font-family="'Liberation Serif', 'Times New Roman', serif" font-weight="normal" font-size="30" fill="#000">/</text></g>
<g transform="matrix(1.16667,0,0,1.03529,1268.83,350.70)"><text x="0" y="0" font-family="'Liberation Serif', 'Times New Roman', serif" font-weight="bold" font-size="30" fill="#000">t</text></g>
<g transform="matrix(1.10000,0,0,1.16471,1373.10,346.50)"><text x="0" y="0" font-family="'Liberation Serif', 'Times New Roman', serif" font-weight="bold" font-size="30" fill="#000">t</text></g>
<g transform="matrix(1.01491,0,0,1.00244,1718.19,272.00)"><text x="0" y="0" font-family="'Liberation Serif', 'Times New Roman', serif" font-weight="bold" font-size="60" fill="#0000ff">Medium size</text></g>
<g transform="matrix(1.00990,0,0,1.00556,1717.98,345.93)"><text x="0" y="0" font-family="'Liberation Serif', 'Times New Roman', serif" font-weight="bold" font-size="60" fill="#0000ff">d<tspan font-size="41" dy="12">m</tspan><tspan dy="-12"> = 223µm</tspan></text></g>
<g transform="matrix(1.02085,0,0,1.02037,1746.58,794.64)"><text x="0" y="0" font-family="'Liberation Serif', 'Times New Roman', serif" font-weight="bold" font-size="60" fill="#008700">Large size</text></g>
<g transform="matrix(1.00990,0,0,1.02037,1747.18,867.34)"><text x="0" y="0" font-family="'Liberation Serif', 'Times New Roman', serif" font-weight="bold" font-size="60" fill="#008700">d<tspan font-size="41" dy="12">m</tspan><tspan dy="-12"> = 625µm</tspan></text></g>
<g transform="matrix(1.01783,0,0,1.05185,361.63,451.83)"><text x="0" y="0" font-family="'Liberation Serif', 'Times New Roman', serif" font-weight="normal" font-size="60" fill="#000">Sp Thickness</text></g>
<g transform="matrix(1.00810,0,0,1.04615,363.29,524.50)"><text x="0" y="0" font-family="'Liberation Serif', 'Times New Roman', serif" font-weight="normal" font-size="60" fill="#000">t = 50 mm</text></g>
<g transform="matrix(0.99886,0,0,0.98537,830.60,623.40)"><text x="0" y="0" font-family="'Liberation Serif', 'Times New Roman', serif" font-weight="bold" font-size="60" fill="#000">Prediction</text></g>
<g transform="matrix(1.01091,0,0,1.01111,348.99,1030.36)"><text x="0" y="0" font-family="'Liberation Serif', 'Times New Roman', serif" font-weight="bold" font-size="60" fill="#000">L – Large, M- Medium , S – Small</text></g>
<g transform="translate(836.00,768.00) rotate(-7.1) translate(-57.23,0) scale(0.97663,0.97663)"><text x="0" y="0" font-family="'Liberation Serif', 'Times New Roman', serif" font-weight="bold" font-size="62" fill="#ff0000">Graded Material: Experiment</text></g>
<g transform="translate(1608.50,676.00) rotate(-8.7) translate(-2.33,0) scale(1.02507,1.02507)"><text x="0" y="0" font-family="'Liberation Serif', 'Times New Roman', serif" font-weight="bold" font-size="60" fill="#ff0000">L<tspan font-size="39" dy="11">37.5</tspan><tspan dy="-11">, M</tspan><tspan font-size="39" dy="11">37.5</tspan><tspan dy="-11">, S</tspan><tspan font-size="39" dy="11">25</tspan></text></g>
</svg>
</body></html>
